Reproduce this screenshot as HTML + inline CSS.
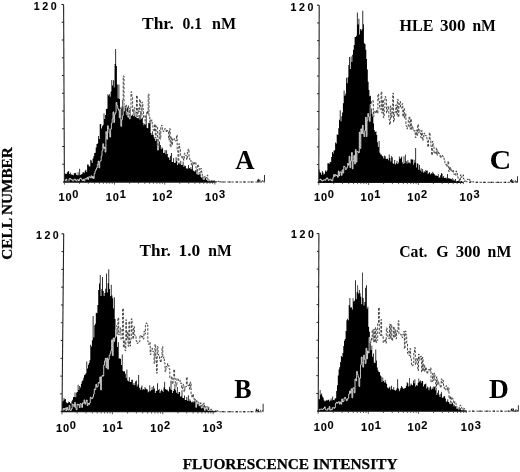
<!DOCTYPE html>
<html><head><meta charset="utf-8"><title>Flow cytometry histograms</title>
<style>
html,body{margin:0;padding:0;background:#fff;}
body{width:520px;height:472px;overflow:hidden;}
svg{display:block;filter:blur(0.3px);}
</style></head><body>
<svg width="520" height="472" viewBox="0 0 520 472">
<defs><clipPath id="clipA"><path d="M64.4 182.0 64.4 173.7 66.0 173.7 66.0 173.9 66.8 173.9 66.8 172.4 67.5 172.4 67.5 171.7 68.3 171.7 68.3 171.1 69.1 171.1 69.1 174.0 69.9 174.0 69.9 172.4 70.7 172.4 70.7 174.2 71.5 174.2 71.5 174.7 73.0 174.7 73.0 175.2 73.8 175.2 73.8 173.0 74.6 173.0 74.6 173.5 75.4 173.5 75.4 172.7 76.2 172.7 76.2 175.1 76.9 175.1 76.9 175.3 77.7 175.3 77.7 172.2 78.5 172.2 78.5 175.2 79.3 175.2 79.3 168.7 80.1 168.7 80.1 175.1 80.9 175.1 80.9 174.2 82.4 174.2 82.4 172.5 83.2 172.5 83.2 172.3 84.0 172.3 84.0 172.8 84.8 172.8 84.8 170.4 85.6 170.4 85.6 169.8 86.3 169.8 86.3 172.0 87.1 172.0 87.1 164.4 87.9 164.4 87.9 164.5 88.7 164.5 88.7 166.3 89.5 166.3 89.5 166.6 90.3 166.6 90.3 159.7 91.0 159.7 91.0 160.4 91.8 160.4 91.8 163.1 92.6 163.1 92.6 158.6 93.4 158.6 93.4 156.3 94.2 156.3 94.2 153.1 95.0 153.1 95.0 152.7 95.7 152.7 95.7 147.4 96.5 147.4 96.5 144.1 97.3 144.1 97.3 143.6 98.1 143.6 98.1 136.0 98.9 136.0 98.9 139.0 99.7 139.0 99.7 124.2 101.2 124.1 101.2 128.5 102.0 128.5 102.0 126.2 102.8 126.2 102.8 124.7 103.6 124.7 103.6 113.5 104.4 113.5 104.4 119.1 105.1 119.1 105.1 114.9 105.9 114.9 105.9 108.9 106.7 108.9 106.7 108.7 107.5 108.7 107.5 94.2 108.3 94.2 108.3 95.4 109.1 95.4 109.1 94.0 109.8 94.0 109.8 96.7 110.6 96.7 110.6 91.5 111.4 91.5 111.4 80.1 112.2 80.1 112.2 85.5 113.0 85.5 113.0 80.3 113.8 80.3 113.8 87.5 114.5 87.5 114.6 64.0 115.3 64.0 115.3 49.0 116.1 49.0 116.1 66.0 116.9 66.0 116.9 84.6 117.7 84.6 117.7 98.4 118.5 98.4 118.5 84.6 119.3 84.6 119.3 99.0 120.0 99.0 120.0 107.5 120.8 107.5 120.8 108.8 121.6 108.8 121.6 106.5 122.4 106.5 122.4 100.0 123.2 100.0 123.2 99.9 124.0 99.9 124.0 111.3 124.7 111.3 124.7 107.7 125.5 107.7 125.5 107.0 126.3 107.0 126.3 115.0 127.1 115.0 127.1 107.6 127.9 107.6 127.9 105.4 128.7 105.4 128.7 115.7 129.4 115.7 129.4 117.3 130.2 117.3 130.2 107.1 131.0 107.1 131.0 116.0 131.8 116.0 131.8 114.5 132.6 114.5 132.6 114.9 133.4 114.9 133.4 109.1 134.1 109.1 134.1 110.9 134.9 110.9 134.9 117.1 135.7 117.1 135.7 114.2 136.5 114.2 136.5 118.1 137.3 118.1 137.3 118.2 138.1 118.2 138.1 118.2 138.8 118.2 138.8 115.1 139.6 115.1 139.6 119.7 140.4 119.7 140.4 111.3 141.2 111.3 141.2 118.7 142.0 118.7 142.0 117.6 142.8 117.6 142.8 123.1 143.5 123.1 143.5 125.3 144.3 125.3 144.3 124.1 145.1 124.1 145.1 120.9 145.9 120.9 145.9 115.3 146.7 115.3 146.7 128.1 147.5 128.1 147.5 128.2 148.2 128.2 148.2 123.0 149.0 123.0 149.0 123.2 149.8 123.2 149.8 119.5 150.6 119.5 150.6 132.9 151.4 132.9 151.4 135.1 152.2 135.1 152.2 131.3 152.9 131.3 152.9 134.7 153.7 134.7 153.7 137.3 154.5 137.3 154.5 139.1 155.3 139.1 155.3 140.9 156.1 140.9 156.1 138.8 156.9 138.8 156.9 146.5 157.6 146.5 157.6 139.2 158.4 139.2 158.4 147.9 159.2 147.9 159.2 141.5 160.0 141.5 160.0 145.0 160.8 145.0 160.8 149.2 161.6 149.2 161.6 147.2 162.3 147.2 162.3 148.6 163.1 148.6 163.1 152.9 163.9 152.9 163.9 152.7 164.7 152.7 164.7 150.0 165.5 150.0 165.5 154.3 166.3 154.3 166.3 150.3 167.1 150.3 167.1 154.1 167.8 154.1 167.8 157.3 168.6 157.3 168.6 157.6 169.4 157.6 169.4 160.0 170.2 160.0 170.2 155.7 171.0 155.7 171.0 153.1 171.8 153.1 171.8 161.9 172.5 161.9 172.5 162.0 173.3 162.0 173.3 158.0 174.1 158.0 174.1 163.0 174.9 163.0 174.9 162.7 175.7 162.7 175.7 157.3 176.5 157.3 176.5 161.0 177.2 161.0 177.2 164.9 178.0 164.9 178.0 162.1 178.8 162.1 178.8 162.8 179.6 162.8 179.6 164.2 180.4 164.2 180.4 160.8 181.2 160.8 181.2 165.1 181.9 165.1 181.9 165.0 182.7 165.0 182.7 161.4 183.5 161.4 183.5 166.9 184.3 166.9 184.3 165.6 185.1 165.6 185.1 166.1 185.9 166.1 185.9 168.5 186.6 168.5 186.6 168.2 187.4 168.2 187.4 168.7 188.2 168.7 188.2 164.9 189.0 164.9 189.0 167.9 189.8 167.9 189.8 168.8 190.6 168.8 190.6 166.9 191.3 166.9 191.3 169.2 192.1 169.2 192.1 161.8 192.9 161.8 192.9 170.6 193.7 170.6 193.7 171.0 194.5 171.0 194.5 171.7 195.3 171.7 195.3 169.9 196.0 169.9 196.0 170.9 196.8 170.9 196.8 172.1 197.6 172.1 197.6 173.5 198.4 173.5 198.4 174.9 199.2 174.9 199.2 172.6 200.0 172.6 200.0 171.6 200.7 171.6 200.7 176.9 201.5 176.9 201.5 177.9 202.3 177.9 202.3 175.1 203.1 175.1 203.1 177.5 203.9 177.5 203.9 179.7 204.7 179.7 204.7 176.6 205.4 176.6 205.4 178.3 206.2 178.3 206.2 179.9 207.0 179.9 207.0 180.7 207.8 180.7 207.8 180.1 208.6 180.1 208.6 179.5 209.4 179.5 209.4 181.2 210.1 181.2 210.1 181.7 210.9 181.7 210.9 180.5 211.7 180.5 211.7 181.2 212.5 181.2 212.5 180.1 213.3 180.1 213.3 181.9 214.1 181.9 214.1 180.8 214.8 180.8 214.8 181.4 215.6 181.4 215.6 181.9 216.4 181.9 216.4 181.0 217.2 181.0 217.2 180.9 218.0 180.9 218.0 182.0 257.2 182.0 257.2 179.8 257.9 179.8 257.9 178.8 258.7 178.8 258.7 180.5 259.5 180.5 259.5 179.4 260.3 179.4 260.3 182.0 261.1 182.0 261.1 181.2 261.9 181.2 261.9 180.0 262.6 180.0 262.6 182.0 263.4 182.0 263.4 180.8 264.2 180.8 264.2 175.0 265.0 175.0 265.0 182.0Z"/></clipPath><clipPath id="clipC"><path d="M318.8 182.3 318.8 169.4 319.6 169.4 319.6 172.3 320.4 172.3 320.4 172.7 321.1 172.7 321.1 174.7 321.9 174.7 321.9 170.9 322.7 170.9 322.7 172.4 323.5 172.4 323.5 174.6 324.2 174.6 324.2 173.8 325.0 173.8 325.0 170.5 325.8 170.5 325.8 171.8 326.6 171.8 326.6 170.6 327.4 170.6 327.4 163.3 328.1 163.3 328.1 163.2 328.9 163.2 328.9 163.8 329.7 163.8 329.7 161.7 330.5 161.7 330.5 162.3 331.2 162.3 331.2 156.9 332.0 156.9 332.0 151.9 332.8 151.9 332.8 153.6 333.6 153.6 333.6 150.6 334.4 150.6 334.4 150.2 335.1 150.2 335.1 142.4 335.9 142.4 335.9 143.5 336.7 143.5 336.7 134.3 337.5 134.3 337.5 135.0 338.3 135.0 338.3 128.3 339.0 128.3 339.0 119.8 339.8 119.8 339.8 110.3 340.6 110.3 340.6 121.3 341.4 121.3 341.4 116.2 342.1 116.2 342.1 112.4 342.9 112.4 342.9 103.3 343.7 103.3 343.7 90.4 344.5 90.4 344.5 95.7 345.3 95.7 345.3 93.7 346.0 93.7 346.0 77.7 346.8 77.7 346.8 83.3 347.6 83.3 347.6 77.2 348.4 77.2 348.4 65.0 349.1 65.0 349.1 57.0 349.9 57.0 349.9 69.1 350.7 69.1 350.7 56.5 351.5 56.5 351.5 62.1 352.3 62.1 352.3 54.7 353.0 54.7 353.0 49.8 353.8 49.8 353.8 44.9 354.6 44.9 354.6 37.0 355.4 37.0 355.4 36.9 356.1 36.9 356.1 35.7 356.9 35.7 356.9 12.5 357.7 12.5 357.7 24.6 358.5 24.6 358.5 18.8 359.3 18.8 359.3 34.6 360.0 34.6 360.0 28.9 360.8 28.9 360.8 30.5 361.6 30.5 361.6 29.2 362.4 29.2 362.4 10.8 363.2 10.8 363.2 24.2 363.9 24.2 363.9 43.2 364.7 43.2 364.7 43.9 365.5 43.9 365.5 49.7 366.3 49.7 366.3 59.1 367.0 59.1 367.0 69.6 367.8 69.6 367.8 81.8 368.6 81.8 368.6 90.0 369.4 90.0 369.4 96.3 370.2 96.3 370.2 95.8 370.9 95.8 370.9 108.4 371.7 108.4 371.7 113.8 372.5 113.8 372.5 116.5 373.3 116.5 373.3 123.4 374.0 123.4 374.0 130.1 374.8 130.1 374.8 132.0 375.6 132.0 375.6 131.2 376.4 131.2 376.4 135.1 377.2 135.1 377.2 142.3 377.9 142.3 377.9 147.0 378.7 147.0 378.7 141.0 379.5 141.0 379.5 152.7 380.3 152.7 380.3 154.6 381.1 154.6 381.1 154.5 381.8 154.5 381.8 156.1 382.6 156.1 382.6 156.4 383.4 156.4 383.4 158.5 384.2 158.5 384.2 155.6 384.9 155.6 384.9 156.3 385.7 156.3 385.7 158.9 386.5 158.9 386.5 159.1 387.3 159.1 387.3 158.4 388.1 158.4 388.1 160.2 388.8 160.2 388.8 154.6 389.6 154.6 389.6 158.1 390.4 158.1 390.4 161.5 391.2 161.5 391.2 155.9 391.9 155.9 391.9 157.2 392.7 157.2 392.7 163.3 393.5 163.3 393.5 163.9 394.3 163.9 394.3 159.9 395.1 159.9 395.1 164.6 395.8 164.6 395.8 163.3 396.6 163.3 396.6 160.7 397.4 160.7 397.4 164.1 398.2 164.1 398.2 162.4 398.9 162.4 398.9 156.4 399.7 156.4 399.7 158.9 400.5 158.9 400.5 157.8 401.3 157.8 401.3 156.5 402.1 156.5 402.1 162.2 402.8 162.2 402.8 163.9 403.6 163.9 403.6 156.3 404.4 156.3 404.4 163.3 405.2 163.3 405.2 154.4 405.9 154.4 405.9 161.2 406.7 161.2 406.7 163.5 407.5 163.5 407.5 160.2 408.3 160.2 408.3 162.7 409.1 162.7 409.1 162.5 409.8 162.5 409.8 163.5 410.6 163.5 410.6 159.3 411.4 159.3 411.4 159.6 412.2 159.6 412.2 159.5 413.0 159.5 413.0 164.8 413.7 164.8 413.7 159.7 414.5 159.7 414.5 162.8 415.3 162.8 415.3 148.0 416.1 148.0 416.1 167.5 416.8 167.5 416.8 163.2 417.6 163.2 417.6 163.8 418.4 163.8 418.4 169.8 419.2 169.8 419.2 164.9 420.0 164.9 420.0 170.4 420.7 170.4 420.7 168.3 421.5 168.3 421.5 171.8 422.3 171.8 422.3 169.0 423.1 169.0 423.1 172.8 423.8 172.8 423.8 171.2 424.6 171.2 424.6 172.2 425.4 172.2 425.4 170.1 426.2 170.1 426.2 170.7 427.0 170.7 427.0 170.4 427.7 170.4 427.7 174.1 428.5 174.1 428.5 173.1 429.3 173.1 429.3 172.1 430.1 172.1 430.1 174.4 430.8 174.4 430.9 173.1 431.6 173.1 431.6 173.8 432.4 173.8 432.4 171.7 433.2 171.7 433.2 173.3 434.0 173.3 434.0 174.0 434.7 174.0 434.7 175.2 435.5 175.2 435.5 175.8 436.3 175.8 436.3 175.4 437.1 175.4 437.1 176.1 437.9 176.1 437.9 173.9 438.6 173.9 438.6 177.5 439.4 177.5 439.4 177.5 440.2 177.5 440.2 175.3 441.0 175.3 441.0 173.0 441.7 173.0 441.7 173.8 442.5 173.8 442.5 177.6 443.3 177.6 443.3 175.9 444.1 175.9 444.1 177.9 444.9 177.9 444.9 177.9 445.6 177.9 445.6 177.6 446.4 177.6 446.4 178.6 447.2 178.6 447.2 174.1 448.0 174.1 448.0 178.1 448.7 178.1 448.7 178.7 449.5 178.7 449.5 178.2 450.3 178.2 450.3 178.9 451.1 178.9 451.1 179.2 451.9 179.2 451.9 178.1 452.6 178.1 452.6 180.6 453.4 180.6 453.4 179.3 454.2 179.3 454.2 180.5 455.0 180.5 455.0 178.9 455.8 178.9 455.8 181.6 456.5 181.6 456.5 181.3 457.3 181.3 457.3 181.1 458.1 181.1 458.1 180.6 458.9 180.6 458.9 181.1 459.6 181.1 459.6 181.8 460.4 181.8 460.4 181.6 461.2 181.6 461.2 181.0 462.0 181.0 462.0 182.0 462.8 182.0 462.8 181.7 463.5 181.7 463.5 182.3 510.2 182.3 510.2 180.1 511.0 180.1 511.0 179.1 511.8 179.1 511.8 180.8 512.6 180.8 512.6 179.7 513.3 179.7 513.3 182.3 514.1 182.3 514.1 181.5 514.9 181.5 514.9 180.3 515.7 180.3 515.7 182.3 516.4 182.3 516.4 181.1 517.2 181.1 517.2 176.3 518.0 176.3 518.0 182.3Z"/></clipPath><clipPath id="clipB"><path d="M62.0 411.8 62.0 401.7 62.8 401.7 62.8 400.8 63.6 400.8 63.6 397.9 64.4 397.9 64.4 399.4 65.1 399.4 65.1 398.9 65.9 398.9 65.9 402.3 66.7 402.3 66.7 403.2 67.5 403.2 67.5 402.9 68.3 402.9 68.3 401.6 69.1 401.6 69.1 402.1 69.9 402.1 69.9 402.9 70.7 402.9 70.7 404.1 71.4 404.1 71.4 401.3 72.2 401.3 72.2 399.7 73.0 399.7 73.0 397.0 74.6 397.0 74.6 392.5 75.4 392.5 75.4 397.2 76.2 397.2 76.2 392.6 77.0 392.6 77.0 391.9 77.7 391.9 77.7 384.8 78.5 384.8 78.5 389.9 79.3 389.9 79.3 386.1 80.1 386.1 80.1 387.6 80.9 387.6 80.9 383.7 81.7 383.7 81.7 381.2 82.5 381.2 82.5 380.3 83.3 380.3 83.3 377.7 84.0 377.7 84.0 375.2 84.8 375.2 84.8 374.4 85.6 374.4 85.6 373.2 86.4 373.2 86.4 361.5 87.2 361.5 87.2 368.4 88.0 368.4 88.0 364.8 88.8 364.8 88.8 363.1 89.5 363.1 89.5 360.2 90.3 360.2 90.3 344.7 91.1 344.7 91.1 346.6 91.9 346.6 91.9 340.3 92.7 340.3 92.7 316.0 93.5 316.0 93.5 337.5 94.3 337.5 94.3 325.3 95.1 325.3 95.1 323.7 95.8 323.7 95.8 312.8 96.6 312.8 96.6 313.2 97.4 313.2 97.4 304.9 98.2 304.9 98.2 290.0 99.0 290.0 99.0 283.5 99.8 283.5 99.8 275.0 100.6 275.0 100.6 296.0 101.4 296.0 101.4 289.1 102.1 289.1 102.1 277.0 102.9 277.0 102.9 291.1 103.7 291.1 103.7 295.9 104.5 295.9 104.5 293.1 105.3 293.1 105.3 288.7 106.1 288.7 106.1 273.6 106.9 273.6 106.9 292.5 107.7 292.5 107.7 283.3 108.4 283.3 108.4 269.3 109.2 269.3 109.2 289.1 110.0 289.1 110.0 296.3 110.8 296.3 110.8 284.8 111.6 284.8 111.6 295.6 112.4 295.6 112.4 298.2 113.2 298.2 113.2 308.4 113.9 308.4 113.9 297.3 114.7 297.3 114.7 318.9 115.5 318.9 115.5 329.3 116.3 329.3 116.3 336.4 117.1 336.4 117.1 346.9 117.9 346.9 117.9 342.2 118.7 342.2 118.7 358.8 119.5 358.8 119.5 357.9 120.2 357.9 120.2 359.0 121.0 359.0 121.0 365.0 121.8 365.0 121.8 354.5 122.6 354.5 122.6 370.8 123.4 370.8 123.4 371.4 124.2 371.4 124.2 371.2 125.0 371.2 125.0 373.7 125.8 373.7 125.8 378.1 126.5 378.1 126.5 369.5 127.3 369.5 127.3 380.5 128.1 380.5 128.1 381.2 128.9 381.2 128.9 377.3 129.7 377.3 129.7 382.0 130.5 382.0 130.5 382.1 131.3 382.1 131.3 379.7 132.1 379.7 132.1 379.8 132.8 379.8 132.8 384.7 133.6 384.7 133.6 383.0 134.4 383.0 134.4 385.2 135.2 385.2 135.2 381.2 136.0 381.2 136.0 380.6 136.8 380.6 136.8 386.5 137.6 386.5 137.6 384.4 138.3 384.4 138.3 375.0 139.1 375.0 139.1 387.7 139.9 387.7 139.9 389.8 140.7 389.8 140.7 387.5 141.5 387.5 141.5 385.4 142.3 385.4 142.3 389.7 143.1 389.7 143.1 388.9 143.9 388.9 143.9 389.7 144.6 389.7 144.6 387.0 145.4 387.0 145.4 388.6 146.2 388.6 146.2 389.2 147.0 389.2 147.0 389.4 147.8 389.4 147.8 392.3 148.6 392.3 148.6 391.3 149.4 391.3 149.4 385.2 150.2 385.2 150.2 391.2 150.9 391.2 150.9 389.9 151.7 389.9 151.7 387.1 152.5 387.1 152.5 389.8 153.3 389.8 153.3 385.7 154.1 385.7 154.1 388.5 154.9 388.5 154.9 393.1 155.7 393.1 155.7 390.8 156.5 390.8 156.5 391.1 157.2 391.1 157.2 383.3 158.0 383.3 158.0 390.0 158.8 390.0 158.8 388.9 159.6 388.9 159.6 393.1 160.4 393.1 160.4 391.3 161.2 391.3 161.2 389.6 162.0 389.6 162.0 390.7 162.8 390.7 162.8 392.1 163.5 392.1 163.5 387.6 164.3 387.6 164.3 381.7 165.1 381.7 165.1 389.0 165.9 389.0 165.9 389.8 166.7 389.8 166.7 389.4 167.5 389.4 167.5 390.8 168.3 390.8 168.3 391.4 169.0 391.4 169.0 386.7 169.8 386.7 169.8 389.2 170.6 389.2 170.6 380.5 171.4 380.5 171.4 390.0 172.2 390.0 172.2 393.0 173.0 393.0 173.0 391.0 173.8 391.0 173.8 389.0 174.6 389.0 174.6 384.1 175.3 384.1 175.3 390.3 176.1 390.3 176.1 392.8 176.9 392.8 176.9 386.9 177.7 386.9 177.7 394.1 178.5 394.1 178.5 392.2 179.3 392.2 179.3 392.1 180.1 392.1 180.1 396.5 180.9 396.5 180.9 396.2 181.6 396.2 181.6 390.3 182.4 390.3 182.4 397.9 183.2 397.9 183.2 398.1 184.0 398.1 184.0 395.5 184.8 395.5 184.8 400.0 185.6 400.0 185.6 400.1 186.4 400.1 186.4 397.1 187.2 397.1 187.2 400.7 187.9 400.7 187.9 395.3 188.7 395.3 188.7 401.2 189.5 401.2 189.5 399.3 190.3 399.3 190.3 400.7 191.1 400.7 191.1 402.2 192.7 402.2 192.7 400.8 193.4 400.8 193.4 402.6 194.2 402.6 194.2 399.6 195.0 399.6 195.0 402.3 195.8 402.3 195.8 402.3 196.6 402.3 196.6 401.6 197.4 401.6 197.4 401.2 198.2 401.2 198.2 402.7 199.0 402.7 199.0 404.8 199.7 404.8 199.7 404.7 200.5 404.7 200.5 406.2 201.3 406.2 201.3 406.6 202.1 406.6 202.1 405.5 202.9 405.5 202.9 408.3 203.7 408.3 203.7 407.3 204.5 407.3 204.5 407.7 205.3 407.7 205.3 407.6 206.0 407.6 206.0 406.0 206.8 406.0 206.8 406.6 207.6 406.6 207.6 408.5 208.4 408.5 208.4 406.8 209.2 406.8 209.2 410.2 210.0 410.2 210.0 409.3 210.8 409.3 210.8 408.8 211.6 408.8 211.6 410.2 212.3 410.2 212.3 410.5 213.1 410.5 213.1 411.4 213.9 411.4 213.9 411.0 214.7 411.0 214.7 411.5 215.5 411.5 215.5 411.7 216.3 411.7 216.3 411.5 217.1 411.5 217.1 411.7 217.8 411.7 217.8 410.7 218.6 410.7 218.6 411.8 255.6 411.8 255.6 409.6 256.4 409.6 256.4 408.6 257.2 408.6 257.2 410.3 258.0 410.3 258.0 409.2 258.8 409.2 258.8 411.8 259.6 411.8 259.6 411.0 260.4 411.0 260.4 409.8 261.1 409.8 261.1 411.8 261.9 411.8 261.9 410.6 262.7 410.6 262.7 403.8 263.5 403.8 263.5 411.8Z"/></clipPath><clipPath id="clipD"><path d="M318.2 411.2 318.2 399.1 319.0 399.1 319.0 399.2 319.8 399.2 319.8 390.1 320.5 390.1 320.5 394.7 321.3 394.7 321.3 393.5 322.1 393.5 322.1 396.5 322.9 396.5 322.9 397.8 323.7 397.8 323.7 400.2 324.5 400.2 324.5 401.6 325.2 401.6 325.2 400.8 326.0 400.8 326.0 400.2 326.8 400.2 326.8 400.5 327.6 400.5 327.6 399.7 329.2 399.7 329.2 401.4 329.9 401.4 329.9 400.6 330.7 400.6 330.7 398.4 331.5 398.4 331.5 400.4 332.3 400.4 332.3 396.6 333.1 396.6 333.1 400.1 333.9 400.1 333.9 400.3 334.6 400.3 334.6 398.4 335.4 398.4 335.4 398.3 336.2 398.3 336.2 390.9 337.0 390.9 337.0 385.3 337.8 385.3 337.8 375.4 338.6 375.4 338.6 369.6 339.3 369.6 339.3 367.2 340.1 367.2 340.1 361.9 340.9 361.9 340.9 356.1 341.7 356.1 341.7 356.9 342.5 356.9 342.5 352.9 343.3 352.9 343.3 345.9 344.0 345.9 344.0 340.7 344.8 340.7 344.8 339.0 345.6 339.0 345.6 330.9 346.4 330.9 346.4 320.2 347.2 320.2 347.2 318.8 348.0 318.8 348.0 320.2 348.7 320.2 348.7 305.2 349.5 305.2 349.5 298.1 350.3 298.1 350.3 307.6 351.1 307.6 351.1 307.2 351.9 307.2 351.9 309.5 352.7 309.5 352.7 298.2 353.4 298.2 353.4 301.6 354.2 301.6 354.2 300.7 355.0 300.7 355.0 280.3 355.8 280.3 355.8 299.2 356.6 299.2 356.6 292.2 357.4 292.2 357.4 285.3 358.1 285.3 358.1 293.4 358.9 293.4 358.9 290.0 359.7 290.0 359.7 293.3 360.5 293.3 360.5 296.7 361.3 296.7 361.3 304.3 362.1 304.3 362.1 272.6 362.8 272.6 362.8 297.9 363.6 297.9 363.6 305.6 364.4 305.6 364.4 301.9 365.2 301.9 365.2 287.7 366.0 287.7 366.0 285.3 366.8 285.3 366.8 308.7 367.5 308.7 367.5 306.8 368.3 306.8 368.3 326.8 369.1 326.8 369.1 331.7 369.9 331.7 369.9 342.9 370.7 342.9 370.7 350.1 371.5 350.1 371.5 345.6 372.2 345.6 372.2 356.7 373.0 356.7 373.0 353.5 373.8 353.5 373.8 362.5 374.6 362.5 374.6 363.1 375.4 363.1 375.4 349.4 376.2 349.4 376.2 360.5 376.9 360.5 376.9 367.5 377.7 367.5 377.7 370.5 378.5 370.5 378.5 372.0 379.3 372.0 379.3 372.2 380.1 372.2 380.1 375.6 380.9 375.6 380.9 376.6 381.6 376.6 381.6 381.7 382.4 381.7 382.4 377.4 383.2 377.4 383.2 380.9 384.0 380.9 384.0 382.5 384.8 382.5 384.8 380.0 385.6 380.0 385.6 382.6 386.3 382.6 386.3 384.1 387.1 384.1 387.1 387.4 387.9 387.4 387.9 388.5 388.7 388.5 388.7 387.6 389.5 387.6 389.5 386.4 390.3 386.4 390.3 389.7 391.0 389.7 391.0 385.8 391.8 385.8 391.8 389.0 392.6 389.0 392.6 389.8 393.4 389.8 393.4 386.9 394.2 386.9 394.2 389.9 395.0 389.9 395.0 390.8 395.7 390.8 395.7 390.0 396.5 390.0 396.5 388.2 397.3 388.2 397.3 379.3 398.1 379.3 398.1 388.4 398.9 388.4 398.9 391.3 399.7 391.3 399.7 389.6 400.4 389.6 400.4 387.8 401.2 387.8 401.2 386.1 402.0 386.1 402.0 387.2 402.8 387.2 402.8 388.5 403.6 388.5 403.6 389.1 404.4 389.1 404.4 388.1 405.1 388.1 405.1 388.0 405.9 388.0 405.9 385.9 406.7 385.9 406.7 382.3 407.5 382.3 407.5 383.2 408.3 383.2 408.3 386.6 409.1 386.6 409.1 378.0 409.8 378.0 409.8 385.7 410.6 385.7 410.6 383.5 411.4 383.5 411.4 384.8 412.2 384.8 412.2 385.2 413.0 385.2 413.0 380.4 413.8 380.4 413.8 383.3 414.5 383.3 414.5 379.2 415.3 379.2 415.3 386.6 416.1 386.6 416.1 384.9 416.9 384.9 416.9 385.7 417.7 385.7 417.7 382.8 418.5 382.8 418.5 378.6 419.2 378.6 419.2 381.5 420.0 381.5 420.0 380.5 420.8 380.5 420.8 382.7 421.6 382.7 421.6 381.0 422.4 381.0 422.4 380.9 423.1 380.9 423.1 386.5 423.9 386.5 423.9 384.5 424.7 384.5 424.7 384.3 425.5 384.3 425.5 383.4 426.3 383.4 426.3 388.5 427.1 388.5 427.1 386.4 427.8 386.4 427.8 387.6 428.6 387.6 428.6 390.3 429.4 390.3 429.4 387.6 430.2 387.6 430.2 386.2 431.0 386.2 431.0 389.6 431.8 389.6 431.8 387.4 432.5 387.4 432.5 389.1 433.3 389.1 433.3 386.6 434.1 386.6 434.1 386.8 434.9 386.8 434.9 387.8 435.7 387.8 435.7 388.6 436.5 388.6 436.5 394.9 437.2 394.9 437.2 392.7 438.0 392.7 438.0 390.2 438.8 390.2 438.8 394.7 439.6 394.7 439.6 396.9 440.4 396.9 440.4 393.8 441.2 393.8 441.2 391.8 441.9 391.8 441.9 397.8 442.7 397.8 442.7 397.6 443.5 397.6 443.5 396.6 444.3 396.6 444.3 396.0 445.1 396.0 445.1 398.6 445.9 398.6 445.9 401.9 446.6 401.9 446.6 401.3 447.4 401.3 447.4 399.3 448.2 399.3 448.2 402.1 449.0 402.1 449.0 403.8 449.8 403.8 449.8 402.0 450.6 402.0 450.6 403.3 451.3 403.3 451.3 402.4 452.1 402.4 452.1 402.8 452.9 402.8 452.9 404.1 453.7 404.1 453.7 406.2 455.3 406.2 455.3 406.3 456.0 406.3 456.0 408.4 456.8 408.4 456.8 408.0 457.6 408.0 457.6 408.5 458.4 408.5 458.4 409.7 459.2 409.7 459.2 408.6 460.0 408.6 460.0 408.1 460.7 408.1 460.7 410.1 461.5 410.1 461.5 410.5 462.3 410.5 462.3 410.7 463.1 410.7 463.1 410.0 464.7 410.0 464.7 411.2 465.4 411.2 465.4 410.8 466.2 410.8 466.2 411.2 510.9 411.2 510.9 409.0 511.7 409.0 511.7 408.0 512.4 408.0 512.4 409.7 513.2 409.7 513.2 408.6 514.0 408.6 514.0 411.2 514.8 411.2 514.8 410.4 515.6 410.4 515.6 409.2 516.4 409.2 516.4 411.2 517.1 411.2 517.1 410.0 517.9 410.0 517.9 405.2 518.7 405.2 518.7 411.2Z"/></clipPath></defs>
<rect width="520" height="472" fill="#fff"/>
<path d="M64.4 182.0 64.4 173.7 66.0 173.7 66.0 173.9 66.8 173.9 66.8 172.4 67.5 172.4 67.5 171.7 68.3 171.7 68.3 171.1 69.1 171.1 69.1 174.0 69.9 174.0 69.9 172.4 70.7 172.4 70.7 174.2 71.5 174.2 71.5 174.7 73.0 174.7 73.0 175.2 73.8 175.2 73.8 173.0 74.6 173.0 74.6 173.5 75.4 173.5 75.4 172.7 76.2 172.7 76.2 175.1 76.9 175.1 76.9 175.3 77.7 175.3 77.7 172.2 78.5 172.2 78.5 175.2 79.3 175.2 79.3 168.7 80.1 168.7 80.1 175.1 80.9 175.1 80.9 174.2 82.4 174.2 82.4 172.5 83.2 172.5 83.2 172.3 84.0 172.3 84.0 172.8 84.8 172.8 84.8 170.4 85.6 170.4 85.6 169.8 86.3 169.8 86.3 172.0 87.1 172.0 87.1 164.4 87.9 164.4 87.9 164.5 88.7 164.5 88.7 166.3 89.5 166.3 89.5 166.6 90.3 166.6 90.3 159.7 91.0 159.7 91.0 160.4 91.8 160.4 91.8 163.1 92.6 163.1 92.6 158.6 93.4 158.6 93.4 156.3 94.2 156.3 94.2 153.1 95.0 153.1 95.0 152.7 95.7 152.7 95.7 147.4 96.5 147.4 96.5 144.1 97.3 144.1 97.3 143.6 98.1 143.6 98.1 136.0 98.9 136.0 98.9 139.0 99.7 139.0 99.7 124.2 101.2 124.1 101.2 128.5 102.0 128.5 102.0 126.2 102.8 126.2 102.8 124.7 103.6 124.7 103.6 113.5 104.4 113.5 104.4 119.1 105.1 119.1 105.1 114.9 105.9 114.9 105.9 108.9 106.7 108.9 106.7 108.7 107.5 108.7 107.5 94.2 108.3 94.2 108.3 95.4 109.1 95.4 109.1 94.0 109.8 94.0 109.8 96.7 110.6 96.7 110.6 91.5 111.4 91.5 111.4 80.1 112.2 80.1 112.2 85.5 113.0 85.5 113.0 80.3 113.8 80.3 113.8 87.5 114.5 87.5 114.6 64.0 115.3 64.0 115.3 49.0 116.1 49.0 116.1 66.0 116.9 66.0 116.9 84.6 117.7 84.6 117.7 98.4 118.5 98.4 118.5 84.6 119.3 84.6 119.3 99.0 120.0 99.0 120.0 107.5 120.8 107.5 120.8 108.8 121.6 108.8 121.6 106.5 122.4 106.5 122.4 100.0 123.2 100.0 123.2 99.9 124.0 99.9 124.0 111.3 124.7 111.3 124.7 107.7 125.5 107.7 125.5 107.0 126.3 107.0 126.3 115.0 127.1 115.0 127.1 107.6 127.9 107.6 127.9 105.4 128.7 105.4 128.7 115.7 129.4 115.7 129.4 117.3 130.2 117.3 130.2 107.1 131.0 107.1 131.0 116.0 131.8 116.0 131.8 114.5 132.6 114.5 132.6 114.9 133.4 114.9 133.4 109.1 134.1 109.1 134.1 110.9 134.9 110.9 134.9 117.1 135.7 117.1 135.7 114.2 136.5 114.2 136.5 118.1 137.3 118.1 137.3 118.2 138.1 118.2 138.1 118.2 138.8 118.2 138.8 115.1 139.6 115.1 139.6 119.7 140.4 119.7 140.4 111.3 141.2 111.3 141.2 118.7 142.0 118.7 142.0 117.6 142.8 117.6 142.8 123.1 143.5 123.1 143.5 125.3 144.3 125.3 144.3 124.1 145.1 124.1 145.1 120.9 145.9 120.9 145.9 115.3 146.7 115.3 146.7 128.1 147.5 128.1 147.5 128.2 148.2 128.2 148.2 123.0 149.0 123.0 149.0 123.2 149.8 123.2 149.8 119.5 150.6 119.5 150.6 132.9 151.4 132.9 151.4 135.1 152.2 135.1 152.2 131.3 152.9 131.3 152.9 134.7 153.7 134.7 153.7 137.3 154.5 137.3 154.5 139.1 155.3 139.1 155.3 140.9 156.1 140.9 156.1 138.8 156.9 138.8 156.9 146.5 157.6 146.5 157.6 139.2 158.4 139.2 158.4 147.9 159.2 147.9 159.2 141.5 160.0 141.5 160.0 145.0 160.8 145.0 160.8 149.2 161.6 149.2 161.6 147.2 162.3 147.2 162.3 148.6 163.1 148.6 163.1 152.9 163.9 152.9 163.9 152.7 164.7 152.7 164.7 150.0 165.5 150.0 165.5 154.3 166.3 154.3 166.3 150.3 167.1 150.3 167.1 154.1 167.8 154.1 167.8 157.3 168.6 157.3 168.6 157.6 169.4 157.6 169.4 160.0 170.2 160.0 170.2 155.7 171.0 155.7 171.0 153.1 171.8 153.1 171.8 161.9 172.5 161.9 172.5 162.0 173.3 162.0 173.3 158.0 174.1 158.0 174.1 163.0 174.9 163.0 174.9 162.7 175.7 162.7 175.7 157.3 176.5 157.3 176.5 161.0 177.2 161.0 177.2 164.9 178.0 164.9 178.0 162.1 178.8 162.1 178.8 162.8 179.6 162.8 179.6 164.2 180.4 164.2 180.4 160.8 181.2 160.8 181.2 165.1 181.9 165.1 181.9 165.0 182.7 165.0 182.7 161.4 183.5 161.4 183.5 166.9 184.3 166.9 184.3 165.6 185.1 165.6 185.1 166.1 185.9 166.1 185.9 168.5 186.6 168.5 186.6 168.2 187.4 168.2 187.4 168.7 188.2 168.7 188.2 164.9 189.0 164.9 189.0 167.9 189.8 167.9 189.8 168.8 190.6 168.8 190.6 166.9 191.3 166.9 191.3 169.2 192.1 169.2 192.1 161.8 192.9 161.8 192.9 170.6 193.7 170.6 193.7 171.0 194.5 171.0 194.5 171.7 195.3 171.7 195.3 169.9 196.0 169.9 196.0 170.9 196.8 170.9 196.8 172.1 197.6 172.1 197.6 173.5 198.4 173.5 198.4 174.9 199.2 174.9 199.2 172.6 200.0 172.6 200.0 171.6 200.7 171.6 200.7 176.9 201.5 176.9 201.5 177.9 202.3 177.9 202.3 175.1 203.1 175.1 203.1 177.5 203.9 177.5 203.9 179.7 204.7 179.7 204.7 176.6 205.4 176.6 205.4 178.3 206.2 178.3 206.2 179.9 207.0 179.9 207.0 180.7 207.8 180.7 207.8 180.1 208.6 180.1 208.6 179.5 209.4 179.5 209.4 181.2 210.1 181.2 210.1 181.7 210.9 181.7 210.9 180.5 211.7 180.5 211.7 181.2 212.5 181.2 212.5 180.1 213.3 180.1 213.3 181.9 214.1 181.9 214.1 180.8 214.8 180.8 214.8 181.4 215.6 181.4 215.6 181.9 216.4 181.9 216.4 181.0 217.2 181.0 217.2 180.9 218.0 180.9 218.0 182.0 257.2 182.0 257.2 179.8 257.9 179.8 257.9 178.8 258.7 178.8 258.7 180.5 259.5 180.5 259.5 179.4 260.3 179.4 260.3 182.0 261.1 182.0 261.1 181.2 261.9 181.2 261.9 180.0 262.6 180.0 262.6 182.0 263.4 182.0 263.4 180.8 264.2 180.8 264.2 175.0 265.0 175.0 265.0 182.0Z" fill="#000"/>
<path d="M64.4 181.3 65.2 181.3 65.2 180.0 66.0 180.0 66.0 179.2 66.8 179.2 66.8 182.0 67.5 182.0 67.5 181.9 68.3 181.9 68.3 181.3 69.1 181.3 69.1 178.7 69.9 178.7 69.9 178.5 70.7 178.5 70.7 179.6 71.5 179.6 71.5 179.4 72.2 179.4 72.2 180.8 73.0 180.8 73.0 181.6 73.8 181.6 73.8 179.4 74.6 179.4 74.6 179.0 75.4 179.0 75.4 180.1 76.2 180.1 76.2 182.0 76.9 182.0 76.9 179.7 77.7 179.7 77.7 179.8 78.5 179.8 78.5 181.0 79.3 181.0 79.3 179.0 80.1 179.0 80.1 178.1 80.9 178.1 80.9 178.9 81.6 178.9 81.6 179.8 82.4 179.8 82.4 180.8 83.2 180.8 83.2 179.3 84.0 179.3 84.0 181.7 84.8 181.7 84.8 178.8 85.6 178.8 85.6 178.5 86.3 178.5 86.3 179.1 87.1 179.1 87.1 177.3 87.9 177.3 87.9 179.4 88.7 179.4 88.7 176.8 89.5 176.8 89.5 177.0 90.3 177.0 90.3 177.7 91.0 177.7 91.0 175.8 91.8 175.8 91.8 178.1 92.6 178.1 92.6 176.5 93.4 176.5 93.4 178.5 94.2 178.5 94.2 173.6 95.0 173.6 95.0 171.2 95.7 171.2 95.7 169.6 96.5 169.6 96.5 167.9 97.3 167.9 97.3 164.6 98.1 164.6 98.1 161.2 98.9 161.2 98.9 167.9 99.7 167.9 99.7 161.4 100.4 161.4 100.4 160.7 101.2 160.7 101.2 156.1 102.0 156.1 102.0 150.8 102.8 150.8 102.8 143.8 103.6 143.8 103.6 148.4 104.4 148.4 104.4 147.0 105.1 147.0 105.1 152.1 105.9 152.1 105.9 131.6 106.7 131.6 106.7 139.3 107.5 139.3 107.5 125.8 108.3 125.8 108.3 128.8 109.1 128.8 109.1 133.1 109.8 133.1 109.8 137.1 110.6 137.1 110.6 129.0 111.4 129.0 111.4 123.3 112.2 123.3 112.2 119.1 113.0 119.1 113.0 111.9 113.8 111.9 113.8 122.5 114.5 122.5 114.6 114.3 115.3 114.3 115.3 112.8 116.1 112.8 116.1 102.5 116.9 102.5 116.9 105.7 117.7 105.7 117.7 108.8 118.5 108.8 118.5 110.4 119.3 110.4 119.3 117.8 120.0 117.8 120.0 108.9 120.8 108.9 120.8 126.3 121.6 126.3 121.6 119.7 122.4 119.7 122.4 115.8 123.2 115.8 123.2 76.0 124.0 76.0 124.0 106.9 125.5 106.9 125.5 104.9 126.3 104.9 126.3 114.7 127.1 114.7 127.1 112.2 127.9 112.2 127.9 117.2 128.7 117.2 128.7 108.1 129.4 108.1 129.4 118.8 130.2 118.8 130.2 108.0 131.0 108.0 131.0 91.8 131.8 91.8 131.8 97.5 132.6 97.5 132.6 112.8 133.4 112.8 133.4 115.9 134.1 115.9 134.1 107.8 134.9 107.8 134.9 113.7 135.7 113.7 135.7 113.1 136.5 113.1 136.5 95.6 137.3 95.6 137.3 116.5 138.1 116.5 138.1 108.3 138.8 108.3 138.8 111.6 139.6 111.6 139.6 99.5 140.4 99.5 140.4 107.6 141.2 107.6 141.2 115.2 142.0 115.2 142.0 102.2 142.8 102.2 142.8 108.8 143.5 108.8 143.5 117.3 144.3 117.3 144.3 116.0 145.1 116.0 145.1 124.1 145.9 124.1 145.9 114.6 146.7 114.6 146.7 111.2 147.5 111.2 147.5 114.0 148.2 114.0 148.2 94.0 149.0 94.0 149.0 116.9 149.8 116.9 149.8 122.2 150.6 122.2 150.6 121.9 151.4 121.9 151.4 120.0 152.2 120.0 152.2 124.1 152.9 124.1 152.9 129.7 153.7 129.7 153.7 131.3 154.5 131.3 154.5 124.3 155.3 124.3 155.3 137.8 156.1 137.8 156.1 126.1 156.9 126.1 156.9 127.1 157.6 127.1 157.6 150.1 158.4 150.1 158.4 139.0 159.2 139.0 159.2 130.5 160.0 130.5 160.0 139.2 160.8 139.2 160.8 126.0 161.6 126.0 161.6 125.3 162.3 125.3 162.3 129.9 163.1 129.9 163.1 131.5 163.9 131.5 163.9 129.7 164.7 129.7 164.7 128.6 165.5 128.6 165.5 130.1 166.3 130.1 166.3 132.2 167.1 132.2 167.1 130.5 167.8 130.5 167.8 131.7 168.6 131.7 168.6 139.9 169.4 139.9 169.4 128.7 170.2 128.7 170.2 147.1 171.0 147.1 171.0 136.9 171.8 136.9 171.8 144.9 172.5 144.9 172.5 139.2 173.3 139.2 173.3 140.1 174.1 140.1 174.1 138.8 174.9 138.8 174.9 140.9 175.7 140.9 175.7 140.7 176.5 140.7 176.5 135.1 177.2 135.1 177.2 150.9 178.0 150.9 178.0 163.0 178.8 163.0 178.8 143.8 179.6 143.8 179.6 147.9 180.4 147.9 180.4 155.4 181.2 155.4 181.2 155.9 181.9 155.9 181.9 158.6 182.7 158.6 182.7 156.8 183.5 156.8 183.5 160.2 184.3 160.2 184.3 153.3 185.1 153.3 185.1 155.3 185.9 155.3 185.9 155.7 186.6 155.7 186.6 159.6 187.4 159.6 187.4 151.9 188.2 151.9 188.2 149.1 189.0 149.1 189.0 158.2 189.8 158.2 189.8 161.1 190.6 161.1 190.6 160.7 191.3 160.7 191.3 165.1 192.1 165.1 192.1 162.7 192.9 162.7 192.9 164.4 193.7 164.4 193.7 162.0 194.5 162.0 194.5 163.8 195.3 163.8 195.3 162.5 196.0 162.5 196.0 168.4 196.8 168.4 196.8 174.1 197.6 174.1 197.6 164.6 198.4 164.6 198.4 166.5 199.2 166.5 199.2 173.4 200.0 173.4 200.0 174.1 200.7 174.1 200.7 168.5 201.5 168.5 201.5 172.1 202.3 172.1 202.3 176.7 203.1 176.7 203.1 179.3 203.9 179.3 203.9 176.8 204.7 176.8 204.7 177.3 205.4 177.3 205.4 177.2 206.2 177.2 206.2 177.7 207.0 177.7 207.0 175.1 207.8 175.1 207.8 179.6 208.6 179.6 208.6 181.3 209.4 181.3 209.4 180.2 210.1 180.2 210.1 180.5 210.9 180.5 210.9 180.9 211.7 180.9 211.7 180.6 212.5 180.6 212.5 180.4 213.3 180.4 213.3 181.4 214.1 181.4 214.1 180.6 214.8 180.6 214.8 181.4 215.6 181.4 215.6 182.0 216.4 182.0 216.4 181.7 217.2 181.7 217.2 181.6 218.0 181.6 218.0 181.2 218.8 181.2 218.8 182.0 219.6 182.0 219.6 181.1 220.3 181.1 220.3 182.0 265.0 182.0" fill="none" stroke="#333" stroke-width="0.9" stroke-dasharray="2.5 1.5"/>
<path d="M64.4 181.3 65.2 181.3 65.2 180.0 66.0 180.0 66.0 179.2 66.8 179.2 66.8 182.0 67.5 182.0 67.5 181.9 68.3 181.9 68.3 181.3 69.1 181.3 69.1 178.7 69.9 178.7 69.9 178.5 70.7 178.5 70.7 179.6 71.5 179.6 71.5 179.4 72.2 179.4 72.2 180.8 73.0 180.8 73.0 181.6 73.8 181.6 73.8 179.4 74.6 179.4 74.6 179.0 75.4 179.0 75.4 180.1 76.2 180.1 76.2 182.0 76.9 182.0 76.9 179.7 77.7 179.7 77.7 179.8 78.5 179.8 78.5 181.0 79.3 181.0 79.3 179.0 80.1 179.0 80.1 178.1 80.9 178.1 80.9 178.9 81.6 178.9 81.6 179.8 82.4 179.8 82.4 180.8 83.2 180.8 83.2 179.3 84.0 179.3 84.0 181.7 84.8 181.7 84.8 178.8 85.6 178.8 85.6 178.5 86.3 178.5 86.3 179.1 87.1 179.1 87.1 177.3 87.9 177.3 87.9 179.4 88.7 179.4 88.7 176.8 89.5 176.8 89.5 177.0 90.3 177.0 90.3 177.7 91.0 177.7 91.0 175.8 91.8 175.8 91.8 178.1 92.6 178.1 92.6 176.5 93.4 176.5 93.4 178.5 94.2 178.5 94.2 173.6 95.0 173.6 95.0 171.2 95.7 171.2 95.7 169.6 96.5 169.6 96.5 167.9 97.3 167.9 97.3 164.6 98.1 164.6 98.1 161.2 98.9 161.2 98.9 167.9 99.7 167.9 99.7 161.4 100.4 161.4 100.4 160.7 101.2 160.7 101.2 156.1 102.0 156.1 102.0 150.8 102.8 150.8 102.8 143.8 103.6 143.8 103.6 148.4 104.4 148.4 104.4 147.0 105.1 147.0 105.1 152.1 105.9 152.1 105.9 131.6 106.7 131.6 106.7 139.3 107.5 139.3 107.5 125.8 108.3 125.8 108.3 128.8 109.1 128.8 109.1 133.1 109.8 133.1 109.8 137.1 110.6 137.1 110.6 129.0 111.4 129.0 111.4 123.3 112.2 123.3 112.2 119.1 113.0 119.1 113.0 111.9 113.8 111.9 113.8 122.5 114.5 122.5 114.6 114.3 115.3 114.3 115.3 112.8 116.1 112.8 116.1 102.5 116.9 102.5 116.9 105.7 117.7 105.7 117.7 108.8 118.5 108.8 118.5 110.4 119.3 110.4 119.3 117.8 120.0 117.8 120.0 108.9 120.8 108.9 120.8 126.3 121.6 126.3 121.6 119.7 122.4 119.7 122.4 115.8 123.2 115.8 123.2 76.0 124.0 76.0 124.0 106.9 125.5 106.9 125.5 104.9 126.3 104.9 126.3 114.7 127.1 114.7 127.1 112.2 127.9 112.2 127.9 117.2 128.7 117.2 128.7 108.1 129.4 108.1 129.4 118.8 130.2 118.8 130.2 108.0 131.0 108.0 131.0 91.8 131.8 91.8 131.8 97.5 132.6 97.5 132.6 112.8 133.4 112.8 133.4 115.9 134.1 115.9 134.1 107.8 134.9 107.8 134.9 113.7 135.7 113.7 135.7 113.1 136.5 113.1 136.5 95.6 137.3 95.6 137.3 116.5 138.1 116.5 138.1 108.3 138.8 108.3 138.8 111.6 139.6 111.6 139.6 99.5 140.4 99.5 140.4 107.6 141.2 107.6 141.2 115.2 142.0 115.2 142.0 102.2 142.8 102.2 142.8 108.8 143.5 108.8 143.5 117.3 144.3 117.3 144.3 116.0 145.1 116.0 145.1 124.1 145.9 124.1 145.9 114.6 146.7 114.6 146.7 111.2 147.5 111.2 147.5 114.0 148.2 114.0 148.2 94.0 149.0 94.0 149.0 116.9 149.8 116.9 149.8 122.2 150.6 122.2 150.6 121.9 151.4 121.9 151.4 120.0 152.2 120.0 152.2 124.1 152.9 124.1 152.9 129.7 153.7 129.7 153.7 131.3 154.5 131.3 154.5 124.3 155.3 124.3 155.3 137.8 156.1 137.8 156.1 126.1 156.9 126.1 156.9 127.1 157.6 127.1 157.6 150.1 158.4 150.1 158.4 139.0 159.2 139.0 159.2 130.5 160.0 130.5 160.0 139.2 160.8 139.2 160.8 126.0 161.6 126.0 161.6 125.3 162.3 125.3 162.3 129.9 163.1 129.9 163.1 131.5 163.9 131.5 163.9 129.7 164.7 129.7 164.7 128.6 165.5 128.6 165.5 130.1 166.3 130.1 166.3 132.2 167.1 132.2 167.1 130.5 167.8 130.5 167.8 131.7 168.6 131.7 168.6 139.9 169.4 139.9 169.4 128.7 170.2 128.7 170.2 147.1 171.0 147.1 171.0 136.9 171.8 136.9 171.8 144.9 172.5 144.9 172.5 139.2 173.3 139.2 173.3 140.1 174.1 140.1 174.1 138.8 174.9 138.8 174.9 140.9 175.7 140.9 175.7 140.7 176.5 140.7 176.5 135.1 177.2 135.1 177.2 150.9 178.0 150.9 178.0 163.0 178.8 163.0 178.8 143.8 179.6 143.8 179.6 147.9 180.4 147.9 180.4 155.4 181.2 155.4 181.2 155.9 181.9 155.9 181.9 158.6 182.7 158.6 182.7 156.8 183.5 156.8 183.5 160.2 184.3 160.2 184.3 153.3 185.1 153.3 185.1 155.3 185.9 155.3 185.9 155.7 186.6 155.7 186.6 159.6 187.4 159.6 187.4 151.9 188.2 151.9 188.2 149.1 189.0 149.1 189.0 158.2 189.8 158.2 189.8 161.1 190.6 161.1 190.6 160.7 191.3 160.7 191.3 165.1 192.1 165.1 192.1 162.7 192.9 162.7 192.9 164.4 193.7 164.4 193.7 162.0 194.5 162.0 194.5 163.8 195.3 163.8 195.3 162.5 196.0 162.5 196.0 168.4 196.8 168.4 196.8 174.1 197.6 174.1 197.6 164.6 198.4 164.6 198.4 166.5 199.2 166.5 199.2 173.4 200.0 173.4 200.0 174.1 200.7 174.1 200.7 168.5 201.5 168.5 201.5 172.1 202.3 172.1 202.3 176.7 203.1 176.7 203.1 179.3 203.9 179.3 203.9 176.8 204.7 176.8 204.7 177.3 205.4 177.3 205.4 177.2 206.2 177.2 206.2 177.7 207.0 177.7 207.0 175.1 207.8 175.1 207.8 179.6 208.6 179.6 208.6 181.3 209.4 181.3 209.4 180.2 210.1 180.2 210.1 180.5 210.9 180.5 210.9 180.9 211.7 180.9 211.7 180.6 212.5 180.6 212.5 180.4 213.3 180.4 213.3 181.4 214.1 181.4 214.1 180.6 214.8 180.6 214.8 181.4 215.6 181.4 215.6 182.0 216.4 182.0 216.4 181.7 217.2 181.7 217.2 181.6 218.0 181.6 218.0 181.2 218.8 181.2 218.8 182.0 219.6 182.0 219.6 181.1 220.3 181.1 220.3 182.0 265.0 182.0" fill="none" stroke="#fff" stroke-width="0.7" clip-path="url(#clipA)"/>
<path d="M318.8 182.3 318.8 169.4 319.6 169.4 319.6 172.3 320.4 172.3 320.4 172.7 321.1 172.7 321.1 174.7 321.9 174.7 321.9 170.9 322.7 170.9 322.7 172.4 323.5 172.4 323.5 174.6 324.2 174.6 324.2 173.8 325.0 173.8 325.0 170.5 325.8 170.5 325.8 171.8 326.6 171.8 326.6 170.6 327.4 170.6 327.4 163.3 328.1 163.3 328.1 163.2 328.9 163.2 328.9 163.8 329.7 163.8 329.7 161.7 330.5 161.7 330.5 162.3 331.2 162.3 331.2 156.9 332.0 156.9 332.0 151.9 332.8 151.9 332.8 153.6 333.6 153.6 333.6 150.6 334.4 150.6 334.4 150.2 335.1 150.2 335.1 142.4 335.9 142.4 335.9 143.5 336.7 143.5 336.7 134.3 337.5 134.3 337.5 135.0 338.3 135.0 338.3 128.3 339.0 128.3 339.0 119.8 339.8 119.8 339.8 110.3 340.6 110.3 340.6 121.3 341.4 121.3 341.4 116.2 342.1 116.2 342.1 112.4 342.9 112.4 342.9 103.3 343.7 103.3 343.7 90.4 344.5 90.4 344.5 95.7 345.3 95.7 345.3 93.7 346.0 93.7 346.0 77.7 346.8 77.7 346.8 83.3 347.6 83.3 347.6 77.2 348.4 77.2 348.4 65.0 349.1 65.0 349.1 57.0 349.9 57.0 349.9 69.1 350.7 69.1 350.7 56.5 351.5 56.5 351.5 62.1 352.3 62.1 352.3 54.7 353.0 54.7 353.0 49.8 353.8 49.8 353.8 44.9 354.6 44.9 354.6 37.0 355.4 37.0 355.4 36.9 356.1 36.9 356.1 35.7 356.9 35.7 356.9 12.5 357.7 12.5 357.7 24.6 358.5 24.6 358.5 18.8 359.3 18.8 359.3 34.6 360.0 34.6 360.0 28.9 360.8 28.9 360.8 30.5 361.6 30.5 361.6 29.2 362.4 29.2 362.4 10.8 363.2 10.8 363.2 24.2 363.9 24.2 363.9 43.2 364.7 43.2 364.7 43.9 365.5 43.9 365.5 49.7 366.3 49.7 366.3 59.1 367.0 59.1 367.0 69.6 367.8 69.6 367.8 81.8 368.6 81.8 368.6 90.0 369.4 90.0 369.4 96.3 370.2 96.3 370.2 95.8 370.9 95.8 370.9 108.4 371.7 108.4 371.7 113.8 372.5 113.8 372.5 116.5 373.3 116.5 373.3 123.4 374.0 123.4 374.0 130.1 374.8 130.1 374.8 132.0 375.6 132.0 375.6 131.2 376.4 131.2 376.4 135.1 377.2 135.1 377.2 142.3 377.9 142.3 377.9 147.0 378.7 147.0 378.7 141.0 379.5 141.0 379.5 152.7 380.3 152.7 380.3 154.6 381.1 154.6 381.1 154.5 381.8 154.5 381.8 156.1 382.6 156.1 382.6 156.4 383.4 156.4 383.4 158.5 384.2 158.5 384.2 155.6 384.9 155.6 384.9 156.3 385.7 156.3 385.7 158.9 386.5 158.9 386.5 159.1 387.3 159.1 387.3 158.4 388.1 158.4 388.1 160.2 388.8 160.2 388.8 154.6 389.6 154.6 389.6 158.1 390.4 158.1 390.4 161.5 391.2 161.5 391.2 155.9 391.9 155.9 391.9 157.2 392.7 157.2 392.7 163.3 393.5 163.3 393.5 163.9 394.3 163.9 394.3 159.9 395.1 159.9 395.1 164.6 395.8 164.6 395.8 163.3 396.6 163.3 396.6 160.7 397.4 160.7 397.4 164.1 398.2 164.1 398.2 162.4 398.9 162.4 398.9 156.4 399.7 156.4 399.7 158.9 400.5 158.9 400.5 157.8 401.3 157.8 401.3 156.5 402.1 156.5 402.1 162.2 402.8 162.2 402.8 163.9 403.6 163.9 403.6 156.3 404.4 156.3 404.4 163.3 405.2 163.3 405.2 154.4 405.9 154.4 405.9 161.2 406.7 161.2 406.7 163.5 407.5 163.5 407.5 160.2 408.3 160.2 408.3 162.7 409.1 162.7 409.1 162.5 409.8 162.5 409.8 163.5 410.6 163.5 410.6 159.3 411.4 159.3 411.4 159.6 412.2 159.6 412.2 159.5 413.0 159.5 413.0 164.8 413.7 164.8 413.7 159.7 414.5 159.7 414.5 162.8 415.3 162.8 415.3 148.0 416.1 148.0 416.1 167.5 416.8 167.5 416.8 163.2 417.6 163.2 417.6 163.8 418.4 163.8 418.4 169.8 419.2 169.8 419.2 164.9 420.0 164.9 420.0 170.4 420.7 170.4 420.7 168.3 421.5 168.3 421.5 171.8 422.3 171.8 422.3 169.0 423.1 169.0 423.1 172.8 423.8 172.8 423.8 171.2 424.6 171.2 424.6 172.2 425.4 172.2 425.4 170.1 426.2 170.1 426.2 170.7 427.0 170.7 427.0 170.4 427.7 170.4 427.7 174.1 428.5 174.1 428.5 173.1 429.3 173.1 429.3 172.1 430.1 172.1 430.1 174.4 430.8 174.4 430.9 173.1 431.6 173.1 431.6 173.8 432.4 173.8 432.4 171.7 433.2 171.7 433.2 173.3 434.0 173.3 434.0 174.0 434.7 174.0 434.7 175.2 435.5 175.2 435.5 175.8 436.3 175.8 436.3 175.4 437.1 175.4 437.1 176.1 437.9 176.1 437.9 173.9 438.6 173.9 438.6 177.5 439.4 177.5 439.4 177.5 440.2 177.5 440.2 175.3 441.0 175.3 441.0 173.0 441.7 173.0 441.7 173.8 442.5 173.8 442.5 177.6 443.3 177.6 443.3 175.9 444.1 175.9 444.1 177.9 444.9 177.9 444.9 177.9 445.6 177.9 445.6 177.6 446.4 177.6 446.4 178.6 447.2 178.6 447.2 174.1 448.0 174.1 448.0 178.1 448.7 178.1 448.7 178.7 449.5 178.7 449.5 178.2 450.3 178.2 450.3 178.9 451.1 178.9 451.1 179.2 451.9 179.2 451.9 178.1 452.6 178.1 452.6 180.6 453.4 180.6 453.4 179.3 454.2 179.3 454.2 180.5 455.0 180.5 455.0 178.9 455.8 178.9 455.8 181.6 456.5 181.6 456.5 181.3 457.3 181.3 457.3 181.1 458.1 181.1 458.1 180.6 458.9 180.6 458.9 181.1 459.6 181.1 459.6 181.8 460.4 181.8 460.4 181.6 461.2 181.6 461.2 181.0 462.0 181.0 462.0 182.0 462.8 182.0 462.8 181.7 463.5 181.7 463.5 182.3 510.2 182.3 510.2 180.1 511.0 180.1 511.0 179.1 511.8 179.1 511.8 180.8 512.6 180.8 512.6 179.7 513.3 179.7 513.3 182.3 514.1 182.3 514.1 181.5 514.9 181.5 514.9 180.3 515.7 180.3 515.7 182.3 516.4 182.3 516.4 181.1 517.2 181.1 517.2 176.3 518.0 176.3 518.0 182.3Z" fill="#000"/>
<path d="M318.8 179.7 319.6 179.7 319.6 179.7 320.4 179.7 320.4 179.0 321.1 179.0 321.1 180.3 321.9 180.3 321.9 181.2 322.7 181.2 322.7 180.5 323.5 180.5 323.5 179.9 324.2 179.9 324.2 179.8 325.0 179.8 325.0 180.3 325.8 180.3 325.8 178.9 326.6 178.9 326.6 177.8 327.4 177.8 327.4 178.6 328.1 178.6 328.1 180.4 328.9 180.4 328.9 179.9 329.7 179.9 329.7 179.4 330.5 179.4 330.5 179.1 331.2 179.1 331.2 180.7 332.0 180.7 332.0 181.0 332.8 181.0 332.8 177.8 333.6 177.8 333.6 174.6 334.4 174.6 334.4 176.4 335.1 176.4 335.1 174.6 335.9 174.6 335.9 175.5 336.7 175.5 336.7 175.2 337.5 175.2 337.5 177.2 338.3 177.2 338.3 171.0 339.0 171.0 339.0 175.6 339.8 175.6 339.8 172.0 340.6 172.0 340.6 171.9 341.4 171.9 341.4 175.4 342.1 175.4 342.1 169.9 342.9 169.9 342.9 173.0 343.7 173.0 343.7 166.2 344.5 166.2 344.5 166.9 345.3 166.9 345.3 169.5 346.0 169.5 346.0 169.1 346.8 169.1 346.8 167.4 347.6 167.4 347.6 163.4 348.4 163.4 348.4 165.2 349.1 165.2 349.1 156.3 349.9 156.3 349.9 167.7 350.7 167.7 350.7 160.9 351.5 160.9 351.5 152.5 352.3 152.5 352.3 168.8 353.0 168.8 353.0 160.7 353.8 160.7 353.8 155.5 354.6 155.5 354.6 163.9 355.4 163.9 355.4 149.6 356.1 149.6 356.1 162.1 356.9 162.1 356.9 151.5 357.7 151.5 357.7 151.8 358.5 151.8 358.5 152.8 359.3 152.8 359.3 132.2 360.0 132.2 360.0 148.3 360.8 148.3 360.8 128.9 361.6 128.9 361.6 133.7 362.4 133.7 362.4 125.3 363.2 125.3 363.2 133.5 363.9 133.5 363.9 136.5 364.7 136.5 364.7 130.6 365.5 130.6 365.5 117.3 366.3 117.3 366.3 136.6 367.0 136.6 367.0 120.3 367.8 120.3 367.8 113.5 368.6 113.5 368.6 116.8 369.4 116.8 369.4 121.4 370.2 121.4 370.2 104.5 370.9 104.5 370.9 104.6 371.7 104.6 371.7 100.6 372.5 100.6 372.5 100.8 373.3 100.8 373.3 116.5 374.0 116.5 374.0 110.8 374.8 110.8 374.8 111.9 375.6 111.9 375.6 113.1 376.4 113.1 376.4 109.8 377.2 109.8 377.2 113.4 377.9 113.4 377.9 94.0 378.7 94.0 378.7 99.9 379.5 99.9 379.5 108.8 380.3 108.8 380.3 109.2 381.1 109.2 381.1 91.7 381.8 91.7 381.8 113.0 382.6 113.0 382.6 100.0 383.4 100.0 383.4 117.7 384.2 117.7 384.2 107.7 384.9 107.7 384.9 96.6 385.7 96.6 385.7 99.5 386.5 99.5 386.5 112.8 387.3 112.8 387.3 109.2 388.1 109.2 388.1 106.1 388.8 106.1 388.8 119.4 389.6 119.4 389.6 124.6 390.4 124.6 390.4 106.0 391.2 106.0 391.2 117.9 391.9 117.9 391.9 113.1 392.7 113.1 392.7 93.3 393.5 93.3 393.5 121.9 394.3 121.9 394.3 113.0 395.1 113.0 395.1 111.5 395.8 111.5 395.8 104.9 396.6 104.9 396.6 114.9 397.4 114.9 397.4 99.4 398.2 99.4 398.2 117.1 398.9 117.1 398.9 104.7 399.7 104.7 399.7 101.5 400.5 101.5 400.5 107.2 401.3 107.2 401.3 108.1 402.1 108.1 402.1 103.7 402.8 103.7 402.8 116.6 403.6 116.6 403.6 108.6 404.4 108.6 404.4 118.1 405.2 118.1 405.2 113.5 405.9 113.5 405.9 125.9 406.7 125.9 406.7 128.8 407.5 128.8 407.5 127.5 408.3 127.5 408.3 120.3 409.1 120.3 409.1 116.5 409.8 116.5 409.8 129.1 410.6 129.1 410.6 119.1 411.4 119.1 411.4 129.3 412.2 129.3 412.2 126.1 413.0 126.1 413.0 130.8 413.7 130.8 413.7 130.5 414.5 130.5 414.5 131.4 415.3 131.4 415.3 137.5 416.1 137.5 416.1 130.1 416.8 130.1 416.8 135.6 417.6 135.6 417.6 124.5 418.4 124.5 418.4 132.7 419.2 132.7 419.2 129.8 420.0 129.8 420.0 133.1 420.7 133.1 420.7 137.6 421.5 137.6 421.5 130.7 422.3 130.7 422.3 140.4 423.1 140.4 423.1 136.9 423.8 136.9 423.8 133.1 424.6 133.1 424.6 135.7 425.4 135.7 425.4 135.4 426.2 135.4 426.2 137.4 427.0 137.4 427.0 141.2 427.7 141.2 427.7 146.9 428.5 146.9 428.5 140.3 429.3 140.3 429.3 132.7 430.1 132.7 430.1 139.7 430.8 139.7 430.9 146.5 431.6 146.5 431.6 155.0 432.4 155.0 432.4 141.4 433.2 141.4 433.2 146.5 434.0 146.5 434.0 153.5 434.7 153.5 434.7 152.4 435.5 152.4 435.5 154.0 436.3 154.0 436.3 148.1 437.1 148.1 437.1 155.2 437.9 155.2 437.9 151.4 438.6 151.4 438.6 153.2 439.4 153.2 439.4 155.1 440.2 155.1 440.2 157.9 441.0 157.9 441.0 156.1 441.7 156.1 441.7 155.3 442.5 155.3 442.5 156.2 443.3 156.2 443.3 157.9 444.1 157.9 444.1 159.8 444.9 159.8 444.9 163.6 445.6 163.6 445.6 164.3 446.4 164.3 446.4 166.7 447.2 166.7 447.2 163.4 448.0 163.4 448.0 161.2 448.7 161.2 448.7 171.5 449.5 171.5 449.5 166.9 450.3 166.9 450.3 170.7 451.1 170.7 451.1 169.0 451.9 169.0 451.9 171.4 452.6 171.4 452.6 170.1 453.4 170.1 453.4 174.0 454.2 174.0 454.2 174.2 455.0 174.2 455.0 175.6 455.8 175.6 455.8 171.0 456.5 171.0 456.5 172.8 457.3 172.8 457.3 176.8 458.1 176.8 458.1 178.8 458.9 178.8 458.9 179.0 459.6 179.0 459.6 181.0 460.4 181.0 460.4 174.9 461.2 174.9 461.2 177.3 462.0 177.3 462.0 175.5 462.8 175.5 462.8 174.9 463.5 174.9 463.5 179.0 464.3 179.0 464.3 181.4 465.1 181.4 465.1 180.3 465.9 180.3 465.9 181.8 466.6 181.8 466.6 181.6 467.4 181.6 467.4 179.1 468.2 179.1 468.2 179.9 469.0 179.9 469.0 179.3 469.8 179.3 469.8 182.3 470.5 182.3 470.5 181.6 471.3 181.6 471.3 182.3 472.1 182.3 472.1 182.0 472.9 182.0 472.9 181.7 473.6 181.7 473.6 182.2 474.4 182.2 474.4 182.3 518.0 182.3" fill="none" stroke="#333" stroke-width="0.9" stroke-dasharray="2.5 1.5"/>
<path d="M318.8 179.7 319.6 179.7 319.6 179.7 320.4 179.7 320.4 179.0 321.1 179.0 321.1 180.3 321.9 180.3 321.9 181.2 322.7 181.2 322.7 180.5 323.5 180.5 323.5 179.9 324.2 179.9 324.2 179.8 325.0 179.8 325.0 180.3 325.8 180.3 325.8 178.9 326.6 178.9 326.6 177.8 327.4 177.8 327.4 178.6 328.1 178.6 328.1 180.4 328.9 180.4 328.9 179.9 329.7 179.9 329.7 179.4 330.5 179.4 330.5 179.1 331.2 179.1 331.2 180.7 332.0 180.7 332.0 181.0 332.8 181.0 332.8 177.8 333.6 177.8 333.6 174.6 334.4 174.6 334.4 176.4 335.1 176.4 335.1 174.6 335.9 174.6 335.9 175.5 336.7 175.5 336.7 175.2 337.5 175.2 337.5 177.2 338.3 177.2 338.3 171.0 339.0 171.0 339.0 175.6 339.8 175.6 339.8 172.0 340.6 172.0 340.6 171.9 341.4 171.9 341.4 175.4 342.1 175.4 342.1 169.9 342.9 169.9 342.9 173.0 343.7 173.0 343.7 166.2 344.5 166.2 344.5 166.9 345.3 166.9 345.3 169.5 346.0 169.5 346.0 169.1 346.8 169.1 346.8 167.4 347.6 167.4 347.6 163.4 348.4 163.4 348.4 165.2 349.1 165.2 349.1 156.3 349.9 156.3 349.9 167.7 350.7 167.7 350.7 160.9 351.5 160.9 351.5 152.5 352.3 152.5 352.3 168.8 353.0 168.8 353.0 160.7 353.8 160.7 353.8 155.5 354.6 155.5 354.6 163.9 355.4 163.9 355.4 149.6 356.1 149.6 356.1 162.1 356.9 162.1 356.9 151.5 357.7 151.5 357.7 151.8 358.5 151.8 358.5 152.8 359.3 152.8 359.3 132.2 360.0 132.2 360.0 148.3 360.8 148.3 360.8 128.9 361.6 128.9 361.6 133.7 362.4 133.7 362.4 125.3 363.2 125.3 363.2 133.5 363.9 133.5 363.9 136.5 364.7 136.5 364.7 130.6 365.5 130.6 365.5 117.3 366.3 117.3 366.3 136.6 367.0 136.6 367.0 120.3 367.8 120.3 367.8 113.5 368.6 113.5 368.6 116.8 369.4 116.8 369.4 121.4 370.2 121.4 370.2 104.5 370.9 104.5 370.9 104.6 371.7 104.6 371.7 100.6 372.5 100.6 372.5 100.8 373.3 100.8 373.3 116.5 374.0 116.5 374.0 110.8 374.8 110.8 374.8 111.9 375.6 111.9 375.6 113.1 376.4 113.1 376.4 109.8 377.2 109.8 377.2 113.4 377.9 113.4 377.9 94.0 378.7 94.0 378.7 99.9 379.5 99.9 379.5 108.8 380.3 108.8 380.3 109.2 381.1 109.2 381.1 91.7 381.8 91.7 381.8 113.0 382.6 113.0 382.6 100.0 383.4 100.0 383.4 117.7 384.2 117.7 384.2 107.7 384.9 107.7 384.9 96.6 385.7 96.6 385.7 99.5 386.5 99.5 386.5 112.8 387.3 112.8 387.3 109.2 388.1 109.2 388.1 106.1 388.8 106.1 388.8 119.4 389.6 119.4 389.6 124.6 390.4 124.6 390.4 106.0 391.2 106.0 391.2 117.9 391.9 117.9 391.9 113.1 392.7 113.1 392.7 93.3 393.5 93.3 393.5 121.9 394.3 121.9 394.3 113.0 395.1 113.0 395.1 111.5 395.8 111.5 395.8 104.9 396.6 104.9 396.6 114.9 397.4 114.9 397.4 99.4 398.2 99.4 398.2 117.1 398.9 117.1 398.9 104.7 399.7 104.7 399.7 101.5 400.5 101.5 400.5 107.2 401.3 107.2 401.3 108.1 402.1 108.1 402.1 103.7 402.8 103.7 402.8 116.6 403.6 116.6 403.6 108.6 404.4 108.6 404.4 118.1 405.2 118.1 405.2 113.5 405.9 113.5 405.9 125.9 406.7 125.9 406.7 128.8 407.5 128.8 407.5 127.5 408.3 127.5 408.3 120.3 409.1 120.3 409.1 116.5 409.8 116.5 409.8 129.1 410.6 129.1 410.6 119.1 411.4 119.1 411.4 129.3 412.2 129.3 412.2 126.1 413.0 126.1 413.0 130.8 413.7 130.8 413.7 130.5 414.5 130.5 414.5 131.4 415.3 131.4 415.3 137.5 416.1 137.5 416.1 130.1 416.8 130.1 416.8 135.6 417.6 135.6 417.6 124.5 418.4 124.5 418.4 132.7 419.2 132.7 419.2 129.8 420.0 129.8 420.0 133.1 420.7 133.1 420.7 137.6 421.5 137.6 421.5 130.7 422.3 130.7 422.3 140.4 423.1 140.4 423.1 136.9 423.8 136.9 423.8 133.1 424.6 133.1 424.6 135.7 425.4 135.7 425.4 135.4 426.2 135.4 426.2 137.4 427.0 137.4 427.0 141.2 427.7 141.2 427.7 146.9 428.5 146.9 428.5 140.3 429.3 140.3 429.3 132.7 430.1 132.7 430.1 139.7 430.8 139.7 430.9 146.5 431.6 146.5 431.6 155.0 432.4 155.0 432.4 141.4 433.2 141.4 433.2 146.5 434.0 146.5 434.0 153.5 434.7 153.5 434.7 152.4 435.5 152.4 435.5 154.0 436.3 154.0 436.3 148.1 437.1 148.1 437.1 155.2 437.9 155.2 437.9 151.4 438.6 151.4 438.6 153.2 439.4 153.2 439.4 155.1 440.2 155.1 440.2 157.9 441.0 157.9 441.0 156.1 441.7 156.1 441.7 155.3 442.5 155.3 442.5 156.2 443.3 156.2 443.3 157.9 444.1 157.9 444.1 159.8 444.9 159.8 444.9 163.6 445.6 163.6 445.6 164.3 446.4 164.3 446.4 166.7 447.2 166.7 447.2 163.4 448.0 163.4 448.0 161.2 448.7 161.2 448.7 171.5 449.5 171.5 449.5 166.9 450.3 166.9 450.3 170.7 451.1 170.7 451.1 169.0 451.9 169.0 451.9 171.4 452.6 171.4 452.6 170.1 453.4 170.1 453.4 174.0 454.2 174.0 454.2 174.2 455.0 174.2 455.0 175.6 455.8 175.6 455.8 171.0 456.5 171.0 456.5 172.8 457.3 172.8 457.3 176.8 458.1 176.8 458.1 178.8 458.9 178.8 458.9 179.0 459.6 179.0 459.6 181.0 460.4 181.0 460.4 174.9 461.2 174.9 461.2 177.3 462.0 177.3 462.0 175.5 462.8 175.5 462.8 174.9 463.5 174.9 463.5 179.0 464.3 179.0 464.3 181.4 465.1 181.4 465.1 180.3 465.9 180.3 465.9 181.8 466.6 181.8 466.6 181.6 467.4 181.6 467.4 179.1 468.2 179.1 468.2 179.9 469.0 179.9 469.0 179.3 469.8 179.3 469.8 182.3 470.5 182.3 470.5 181.6 471.3 181.6 471.3 182.3 472.1 182.3 472.1 182.0 472.9 182.0 472.9 181.7 473.6 181.7 473.6 182.2 474.4 182.2 474.4 182.3 518.0 182.3" fill="none" stroke="#fff" stroke-width="0.7" clip-path="url(#clipC)"/>
<path d="M62.0 411.8 62.0 401.7 62.8 401.7 62.8 400.8 63.6 400.8 63.6 397.9 64.4 397.9 64.4 399.4 65.1 399.4 65.1 398.9 65.9 398.9 65.9 402.3 66.7 402.3 66.7 403.2 67.5 403.2 67.5 402.9 68.3 402.9 68.3 401.6 69.1 401.6 69.1 402.1 69.9 402.1 69.9 402.9 70.7 402.9 70.7 404.1 71.4 404.1 71.4 401.3 72.2 401.3 72.2 399.7 73.0 399.7 73.0 397.0 74.6 397.0 74.6 392.5 75.4 392.5 75.4 397.2 76.2 397.2 76.2 392.6 77.0 392.6 77.0 391.9 77.7 391.9 77.7 384.8 78.5 384.8 78.5 389.9 79.3 389.9 79.3 386.1 80.1 386.1 80.1 387.6 80.9 387.6 80.9 383.7 81.7 383.7 81.7 381.2 82.5 381.2 82.5 380.3 83.3 380.3 83.3 377.7 84.0 377.7 84.0 375.2 84.8 375.2 84.8 374.4 85.6 374.4 85.6 373.2 86.4 373.2 86.4 361.5 87.2 361.5 87.2 368.4 88.0 368.4 88.0 364.8 88.8 364.8 88.8 363.1 89.5 363.1 89.5 360.2 90.3 360.2 90.3 344.7 91.1 344.7 91.1 346.6 91.9 346.6 91.9 340.3 92.7 340.3 92.7 316.0 93.5 316.0 93.5 337.5 94.3 337.5 94.3 325.3 95.1 325.3 95.1 323.7 95.8 323.7 95.8 312.8 96.6 312.8 96.6 313.2 97.4 313.2 97.4 304.9 98.2 304.9 98.2 290.0 99.0 290.0 99.0 283.5 99.8 283.5 99.8 275.0 100.6 275.0 100.6 296.0 101.4 296.0 101.4 289.1 102.1 289.1 102.1 277.0 102.9 277.0 102.9 291.1 103.7 291.1 103.7 295.9 104.5 295.9 104.5 293.1 105.3 293.1 105.3 288.7 106.1 288.7 106.1 273.6 106.9 273.6 106.9 292.5 107.7 292.5 107.7 283.3 108.4 283.3 108.4 269.3 109.2 269.3 109.2 289.1 110.0 289.1 110.0 296.3 110.8 296.3 110.8 284.8 111.6 284.8 111.6 295.6 112.4 295.6 112.4 298.2 113.2 298.2 113.2 308.4 113.9 308.4 113.9 297.3 114.7 297.3 114.7 318.9 115.5 318.9 115.5 329.3 116.3 329.3 116.3 336.4 117.1 336.4 117.1 346.9 117.9 346.9 117.9 342.2 118.7 342.2 118.7 358.8 119.5 358.8 119.5 357.9 120.2 357.9 120.2 359.0 121.0 359.0 121.0 365.0 121.8 365.0 121.8 354.5 122.6 354.5 122.6 370.8 123.4 370.8 123.4 371.4 124.2 371.4 124.2 371.2 125.0 371.2 125.0 373.7 125.8 373.7 125.8 378.1 126.5 378.1 126.5 369.5 127.3 369.5 127.3 380.5 128.1 380.5 128.1 381.2 128.9 381.2 128.9 377.3 129.7 377.3 129.7 382.0 130.5 382.0 130.5 382.1 131.3 382.1 131.3 379.7 132.1 379.7 132.1 379.8 132.8 379.8 132.8 384.7 133.6 384.7 133.6 383.0 134.4 383.0 134.4 385.2 135.2 385.2 135.2 381.2 136.0 381.2 136.0 380.6 136.8 380.6 136.8 386.5 137.6 386.5 137.6 384.4 138.3 384.4 138.3 375.0 139.1 375.0 139.1 387.7 139.9 387.7 139.9 389.8 140.7 389.8 140.7 387.5 141.5 387.5 141.5 385.4 142.3 385.4 142.3 389.7 143.1 389.7 143.1 388.9 143.9 388.9 143.9 389.7 144.6 389.7 144.6 387.0 145.4 387.0 145.4 388.6 146.2 388.6 146.2 389.2 147.0 389.2 147.0 389.4 147.8 389.4 147.8 392.3 148.6 392.3 148.6 391.3 149.4 391.3 149.4 385.2 150.2 385.2 150.2 391.2 150.9 391.2 150.9 389.9 151.7 389.9 151.7 387.1 152.5 387.1 152.5 389.8 153.3 389.8 153.3 385.7 154.1 385.7 154.1 388.5 154.9 388.5 154.9 393.1 155.7 393.1 155.7 390.8 156.5 390.8 156.5 391.1 157.2 391.1 157.2 383.3 158.0 383.3 158.0 390.0 158.8 390.0 158.8 388.9 159.6 388.9 159.6 393.1 160.4 393.1 160.4 391.3 161.2 391.3 161.2 389.6 162.0 389.6 162.0 390.7 162.8 390.7 162.8 392.1 163.5 392.1 163.5 387.6 164.3 387.6 164.3 381.7 165.1 381.7 165.1 389.0 165.9 389.0 165.9 389.8 166.7 389.8 166.7 389.4 167.5 389.4 167.5 390.8 168.3 390.8 168.3 391.4 169.0 391.4 169.0 386.7 169.8 386.7 169.8 389.2 170.6 389.2 170.6 380.5 171.4 380.5 171.4 390.0 172.2 390.0 172.2 393.0 173.0 393.0 173.0 391.0 173.8 391.0 173.8 389.0 174.6 389.0 174.6 384.1 175.3 384.1 175.3 390.3 176.1 390.3 176.1 392.8 176.9 392.8 176.9 386.9 177.7 386.9 177.7 394.1 178.5 394.1 178.5 392.2 179.3 392.2 179.3 392.1 180.1 392.1 180.1 396.5 180.9 396.5 180.9 396.2 181.6 396.2 181.6 390.3 182.4 390.3 182.4 397.9 183.2 397.9 183.2 398.1 184.0 398.1 184.0 395.5 184.8 395.5 184.8 400.0 185.6 400.0 185.6 400.1 186.4 400.1 186.4 397.1 187.2 397.1 187.2 400.7 187.9 400.7 187.9 395.3 188.7 395.3 188.7 401.2 189.5 401.2 189.5 399.3 190.3 399.3 190.3 400.7 191.1 400.7 191.1 402.2 192.7 402.2 192.7 400.8 193.4 400.8 193.4 402.6 194.2 402.6 194.2 399.6 195.0 399.6 195.0 402.3 195.8 402.3 195.8 402.3 196.6 402.3 196.6 401.6 197.4 401.6 197.4 401.2 198.2 401.2 198.2 402.7 199.0 402.7 199.0 404.8 199.7 404.8 199.7 404.7 200.5 404.7 200.5 406.2 201.3 406.2 201.3 406.6 202.1 406.6 202.1 405.5 202.9 405.5 202.9 408.3 203.7 408.3 203.7 407.3 204.5 407.3 204.5 407.7 205.3 407.7 205.3 407.6 206.0 407.6 206.0 406.0 206.8 406.0 206.8 406.6 207.6 406.6 207.6 408.5 208.4 408.5 208.4 406.8 209.2 406.8 209.2 410.2 210.0 410.2 210.0 409.3 210.8 409.3 210.8 408.8 211.6 408.8 211.6 410.2 212.3 410.2 212.3 410.5 213.1 410.5 213.1 411.4 213.9 411.4 213.9 411.0 214.7 411.0 214.7 411.5 215.5 411.5 215.5 411.7 216.3 411.7 216.3 411.5 217.1 411.5 217.1 411.7 217.8 411.7 217.8 410.7 218.6 410.7 218.6 411.8 255.6 411.8 255.6 409.6 256.4 409.6 256.4 408.6 257.2 408.6 257.2 410.3 258.0 410.3 258.0 409.2 258.8 409.2 258.8 411.8 259.6 411.8 259.6 411.0 260.4 411.0 260.4 409.8 261.1 409.8 261.1 411.8 261.9 411.8 261.9 410.6 262.7 410.6 262.7 403.8 263.5 403.8 263.5 411.8Z" fill="#000"/>
<path d="M62.0 411.3 62.8 411.3 62.8 408.5 63.6 408.5 63.6 409.8 64.4 409.8 64.4 408.5 65.1 408.5 65.1 408.1 65.9 408.1 65.9 411.7 66.7 411.7 66.7 407.4 67.5 407.4 67.5 409.7 68.3 409.7 68.3 410.1 69.1 410.1 69.1 405.6 69.9 405.6 69.9 410.4 70.7 410.4 70.7 410.3 71.4 410.3 71.4 408.7 72.2 408.7 72.2 404.1 73.0 404.1 73.0 404.8 73.8 404.8 73.8 406.8 74.6 406.8 74.6 402.5 75.4 402.5 75.4 407.7 76.2 407.7 76.2 409.7 77.0 409.7 77.0 404.2 77.7 404.2 77.7 405.0 78.5 405.0 78.5 404.5 79.3 404.5 79.3 407.6 80.1 407.6 80.1 403.6 80.9 403.6 80.9 404.0 81.7 404.0 81.7 407.4 82.5 407.4 82.5 402.9 83.3 402.9 83.3 403.2 84.0 403.2 84.0 399.9 84.8 399.9 84.8 404.2 85.6 404.2 85.6 402.2 86.4 402.2 86.4 400.1 87.2 400.1 87.2 405.6 88.0 405.6 88.0 403.4 88.8 403.4 88.8 404.4 89.5 404.4 89.5 402.9 90.3 402.9 90.3 397.2 91.1 397.2 91.1 398.7 91.9 398.7 91.9 398.5 92.7 398.5 92.7 396.8 93.5 396.8 93.5 394.1 94.3 394.1 94.3 388.9 95.1 388.9 95.1 389.7 95.8 389.7 95.8 384.3 96.6 384.3 96.6 387.2 97.4 387.2 97.4 386.3 98.2 386.3 98.2 382.6 99.0 382.6 99.0 383.1 99.8 383.1 99.8 376.9 100.6 376.9 100.6 389.9 101.4 389.9 101.4 377.0 102.1 377.0 102.1 375.5 102.9 375.5 102.9 376.0 103.7 376.0 103.7 365.1 104.5 365.1 104.5 361.0 105.3 361.0 105.3 358.3 106.1 358.3 106.1 367.8 106.9 367.8 106.9 358.0 107.7 358.0 107.7 369.1 108.4 369.1 108.4 359.4 109.2 359.4 109.2 355.7 110.0 355.7 110.0 353.3 110.8 353.3 110.8 350.7 111.6 350.7 111.6 339.8 112.4 339.8 112.4 355.6 113.2 355.6 113.2 338.1 113.9 338.1 113.9 341.4 114.7 341.4 114.7 337.7 115.5 337.7 115.5 325.3 116.3 325.3 116.3 326.4 117.1 326.4 117.1 334.2 117.9 334.2 117.9 317.7 118.7 317.7 118.7 334.9 119.5 334.9 119.5 332.7 120.2 332.7 120.2 327.8 121.0 327.8 121.0 339.5 121.8 339.5 121.8 338.5 122.6 338.5 122.6 308.5 123.4 308.5 123.4 347.4 124.2 347.4 124.2 340.6 125.0 340.6 125.0 350.7 125.8 350.7 125.8 319.8 126.5 319.8 126.5 339.8 127.3 339.8 127.3 331.9 128.1 331.9 128.1 346.2 128.9 346.2 128.9 321.4 129.7 321.4 129.7 346.0 130.5 346.0 130.5 339.2 131.3 339.2 131.3 318.8 132.1 318.8 132.1 330.9 132.8 330.9 132.8 338.9 133.6 338.9 133.6 326.6 134.4 326.6 134.4 335.0 135.2 335.0 135.2 336.0 136.0 336.0 136.0 340.8 136.8 340.8 136.8 343.5 137.6 343.5 137.6 342.9 138.3 342.9 138.3 342.4 139.1 342.4 139.1 341.5 139.9 341.5 139.9 335.4 140.7 335.4 140.7 336.0 141.5 336.0 141.5 337.8 142.3 337.8 142.3 336.6 143.1 336.6 143.1 339.0 143.9 339.0 143.9 331.3 144.6 331.3 144.6 334.1 145.4 334.1 145.4 325.5 146.2 325.5 146.2 323.0 147.0 323.0 147.0 325.0 147.8 325.0 147.8 341.8 148.6 341.8 148.6 344.4 149.4 344.4 149.4 342.4 150.2 342.4 150.2 354.5 150.9 354.5 150.9 349.0 151.7 349.0 151.7 348.3 152.5 348.3 152.5 351.4 153.3 351.4 153.3 351.7 154.1 351.7 154.1 363.7 154.9 363.7 154.9 344.4 155.7 344.4 155.7 357.6 156.5 357.6 156.5 373.2 157.2 373.2 157.2 346.6 158.0 346.6 158.0 354.5 158.8 354.5 158.8 356.4 159.6 356.4 159.6 360.3 160.4 360.3 160.4 362.3 161.2 362.3 161.2 356.9 162.0 356.9 162.0 346.8 162.8 346.8 162.8 358.1 163.5 358.1 163.5 357.1 164.3 357.1 164.3 363.0 165.1 363.0 165.1 371.8 165.9 371.8 165.9 366.4 166.7 366.4 166.7 367.1 167.5 367.1 167.5 363.7 168.3 363.7 168.3 365.4 169.0 365.4 169.0 368.8 169.8 368.8 169.8 377.7 170.6 377.7 170.6 378.5 171.4 378.5 171.4 376.6 172.2 376.6 172.2 384.0 173.0 384.0 173.0 380.3 173.8 380.3 173.8 369.5 174.6 369.5 174.6 378.3 175.3 378.3 175.3 384.6 176.1 384.6 176.1 386.2 176.9 386.2 176.9 378.5 177.7 378.5 177.7 379.2 178.5 379.2 178.5 380.5 179.3 380.5 179.3 379.9 180.1 379.9 180.1 383.5 180.9 383.5 180.9 383.0 181.6 383.0 181.6 388.9 182.4 388.9 182.4 385.8 183.2 385.8 183.2 384.3 184.0 384.3 184.0 391.8 184.8 391.8 184.8 387.8 185.6 387.8 185.6 386.7 186.4 386.7 186.4 377.2 187.2 377.2 187.2 384.8 187.9 384.8 187.9 385.7 188.7 385.7 188.7 383.9 189.5 383.9 189.5 389.2 190.3 389.2 190.3 382.1 191.1 382.1 191.1 394.6 191.9 394.6 191.9 397.6 192.7 397.6 192.7 394.1 193.4 394.1 193.4 398.0 194.2 398.0 194.2 401.0 195.0 401.0 195.0 399.6 195.8 399.6 195.8 407.3 196.6 407.3 196.6 400.4 197.4 400.4 197.4 403.9 198.2 403.9 198.2 402.4 199.0 402.4 199.0 405.8 199.7 405.8 199.7 405.4 200.5 405.4 200.5 402.9 201.3 402.9 201.3 408.0 202.1 408.0 202.1 404.2 202.9 404.2 202.9 407.8 203.7 407.8 203.7 403.1 204.5 403.1 204.5 410.4 205.3 410.4 205.3 406.0 206.0 406.0 206.0 409.0 206.8 409.0 206.8 406.3 207.6 406.3 207.6 410.2 208.4 410.2 208.4 411.4 209.2 411.4 209.2 409.9 210.8 409.8 210.8 410.8 211.6 410.8 211.6 410.7 212.3 410.7 212.3 411.3 213.1 411.3 213.1 411.6 213.9 411.6 213.9 411.8 214.7 411.8 214.7 410.7 215.5 410.7 215.5 410.8 216.3 410.8 216.3 411.8 217.1 411.8 217.1 410.7 217.8 410.7 217.8 411.7 218.6 411.7 218.6 411.5 219.4 411.5 219.4 411.8 263.5 411.8" fill="none" stroke="#333" stroke-width="0.9" stroke-dasharray="2.5 1.5"/>
<path d="M62.0 411.3 62.8 411.3 62.8 408.5 63.6 408.5 63.6 409.8 64.4 409.8 64.4 408.5 65.1 408.5 65.1 408.1 65.9 408.1 65.9 411.7 66.7 411.7 66.7 407.4 67.5 407.4 67.5 409.7 68.3 409.7 68.3 410.1 69.1 410.1 69.1 405.6 69.9 405.6 69.9 410.4 70.7 410.4 70.7 410.3 71.4 410.3 71.4 408.7 72.2 408.7 72.2 404.1 73.0 404.1 73.0 404.8 73.8 404.8 73.8 406.8 74.6 406.8 74.6 402.5 75.4 402.5 75.4 407.7 76.2 407.7 76.2 409.7 77.0 409.7 77.0 404.2 77.7 404.2 77.7 405.0 78.5 405.0 78.5 404.5 79.3 404.5 79.3 407.6 80.1 407.6 80.1 403.6 80.9 403.6 80.9 404.0 81.7 404.0 81.7 407.4 82.5 407.4 82.5 402.9 83.3 402.9 83.3 403.2 84.0 403.2 84.0 399.9 84.8 399.9 84.8 404.2 85.6 404.2 85.6 402.2 86.4 402.2 86.4 400.1 87.2 400.1 87.2 405.6 88.0 405.6 88.0 403.4 88.8 403.4 88.8 404.4 89.5 404.4 89.5 402.9 90.3 402.9 90.3 397.2 91.1 397.2 91.1 398.7 91.9 398.7 91.9 398.5 92.7 398.5 92.7 396.8 93.5 396.8 93.5 394.1 94.3 394.1 94.3 388.9 95.1 388.9 95.1 389.7 95.8 389.7 95.8 384.3 96.6 384.3 96.6 387.2 97.4 387.2 97.4 386.3 98.2 386.3 98.2 382.6 99.0 382.6 99.0 383.1 99.8 383.1 99.8 376.9 100.6 376.9 100.6 389.9 101.4 389.9 101.4 377.0 102.1 377.0 102.1 375.5 102.9 375.5 102.9 376.0 103.7 376.0 103.7 365.1 104.5 365.1 104.5 361.0 105.3 361.0 105.3 358.3 106.1 358.3 106.1 367.8 106.9 367.8 106.9 358.0 107.7 358.0 107.7 369.1 108.4 369.1 108.4 359.4 109.2 359.4 109.2 355.7 110.0 355.7 110.0 353.3 110.8 353.3 110.8 350.7 111.6 350.7 111.6 339.8 112.4 339.8 112.4 355.6 113.2 355.6 113.2 338.1 113.9 338.1 113.9 341.4 114.7 341.4 114.7 337.7 115.5 337.7 115.5 325.3 116.3 325.3 116.3 326.4 117.1 326.4 117.1 334.2 117.9 334.2 117.9 317.7 118.7 317.7 118.7 334.9 119.5 334.9 119.5 332.7 120.2 332.7 120.2 327.8 121.0 327.8 121.0 339.5 121.8 339.5 121.8 338.5 122.6 338.5 122.6 308.5 123.4 308.5 123.4 347.4 124.2 347.4 124.2 340.6 125.0 340.6 125.0 350.7 125.8 350.7 125.8 319.8 126.5 319.8 126.5 339.8 127.3 339.8 127.3 331.9 128.1 331.9 128.1 346.2 128.9 346.2 128.9 321.4 129.7 321.4 129.7 346.0 130.5 346.0 130.5 339.2 131.3 339.2 131.3 318.8 132.1 318.8 132.1 330.9 132.8 330.9 132.8 338.9 133.6 338.9 133.6 326.6 134.4 326.6 134.4 335.0 135.2 335.0 135.2 336.0 136.0 336.0 136.0 340.8 136.8 340.8 136.8 343.5 137.6 343.5 137.6 342.9 138.3 342.9 138.3 342.4 139.1 342.4 139.1 341.5 139.9 341.5 139.9 335.4 140.7 335.4 140.7 336.0 141.5 336.0 141.5 337.8 142.3 337.8 142.3 336.6 143.1 336.6 143.1 339.0 143.9 339.0 143.9 331.3 144.6 331.3 144.6 334.1 145.4 334.1 145.4 325.5 146.2 325.5 146.2 323.0 147.0 323.0 147.0 325.0 147.8 325.0 147.8 341.8 148.6 341.8 148.6 344.4 149.4 344.4 149.4 342.4 150.2 342.4 150.2 354.5 150.9 354.5 150.9 349.0 151.7 349.0 151.7 348.3 152.5 348.3 152.5 351.4 153.3 351.4 153.3 351.7 154.1 351.7 154.1 363.7 154.9 363.7 154.9 344.4 155.7 344.4 155.7 357.6 156.5 357.6 156.5 373.2 157.2 373.2 157.2 346.6 158.0 346.6 158.0 354.5 158.8 354.5 158.8 356.4 159.6 356.4 159.6 360.3 160.4 360.3 160.4 362.3 161.2 362.3 161.2 356.9 162.0 356.9 162.0 346.8 162.8 346.8 162.8 358.1 163.5 358.1 163.5 357.1 164.3 357.1 164.3 363.0 165.1 363.0 165.1 371.8 165.9 371.8 165.9 366.4 166.7 366.4 166.7 367.1 167.5 367.1 167.5 363.7 168.3 363.7 168.3 365.4 169.0 365.4 169.0 368.8 169.8 368.8 169.8 377.7 170.6 377.7 170.6 378.5 171.4 378.5 171.4 376.6 172.2 376.6 172.2 384.0 173.0 384.0 173.0 380.3 173.8 380.3 173.8 369.5 174.6 369.5 174.6 378.3 175.3 378.3 175.3 384.6 176.1 384.6 176.1 386.2 176.9 386.2 176.9 378.5 177.7 378.5 177.7 379.2 178.5 379.2 178.5 380.5 179.3 380.5 179.3 379.9 180.1 379.9 180.1 383.5 180.9 383.5 180.9 383.0 181.6 383.0 181.6 388.9 182.4 388.9 182.4 385.8 183.2 385.8 183.2 384.3 184.0 384.3 184.0 391.8 184.8 391.8 184.8 387.8 185.6 387.8 185.6 386.7 186.4 386.7 186.4 377.2 187.2 377.2 187.2 384.8 187.9 384.8 187.9 385.7 188.7 385.7 188.7 383.9 189.5 383.9 189.5 389.2 190.3 389.2 190.3 382.1 191.1 382.1 191.1 394.6 191.9 394.6 191.9 397.6 192.7 397.6 192.7 394.1 193.4 394.1 193.4 398.0 194.2 398.0 194.2 401.0 195.0 401.0 195.0 399.6 195.8 399.6 195.8 407.3 196.6 407.3 196.6 400.4 197.4 400.4 197.4 403.9 198.2 403.9 198.2 402.4 199.0 402.4 199.0 405.8 199.7 405.8 199.7 405.4 200.5 405.4 200.5 402.9 201.3 402.9 201.3 408.0 202.1 408.0 202.1 404.2 202.9 404.2 202.9 407.8 203.7 407.8 203.7 403.1 204.5 403.1 204.5 410.4 205.3 410.4 205.3 406.0 206.0 406.0 206.0 409.0 206.8 409.0 206.8 406.3 207.6 406.3 207.6 410.2 208.4 410.2 208.4 411.4 209.2 411.4 209.2 409.9 210.8 409.8 210.8 410.8 211.6 410.8 211.6 410.7 212.3 410.7 212.3 411.3 213.1 411.3 213.1 411.6 213.9 411.6 213.9 411.8 214.7 411.8 214.7 410.7 215.5 410.7 215.5 410.8 216.3 410.8 216.3 411.8 217.1 411.8 217.1 410.7 217.8 410.7 217.8 411.7 218.6 411.7 218.6 411.5 219.4 411.5 219.4 411.8 263.5 411.8" fill="none" stroke="#fff" stroke-width="0.7" clip-path="url(#clipB)"/>
<path d="M318.2 411.2 318.2 399.1 319.0 399.1 319.0 399.2 319.8 399.2 319.8 390.1 320.5 390.1 320.5 394.7 321.3 394.7 321.3 393.5 322.1 393.5 322.1 396.5 322.9 396.5 322.9 397.8 323.7 397.8 323.7 400.2 324.5 400.2 324.5 401.6 325.2 401.6 325.2 400.8 326.0 400.8 326.0 400.2 326.8 400.2 326.8 400.5 327.6 400.5 327.6 399.7 329.2 399.7 329.2 401.4 329.9 401.4 329.9 400.6 330.7 400.6 330.7 398.4 331.5 398.4 331.5 400.4 332.3 400.4 332.3 396.6 333.1 396.6 333.1 400.1 333.9 400.1 333.9 400.3 334.6 400.3 334.6 398.4 335.4 398.4 335.4 398.3 336.2 398.3 336.2 390.9 337.0 390.9 337.0 385.3 337.8 385.3 337.8 375.4 338.6 375.4 338.6 369.6 339.3 369.6 339.3 367.2 340.1 367.2 340.1 361.9 340.9 361.9 340.9 356.1 341.7 356.1 341.7 356.9 342.5 356.9 342.5 352.9 343.3 352.9 343.3 345.9 344.0 345.9 344.0 340.7 344.8 340.7 344.8 339.0 345.6 339.0 345.6 330.9 346.4 330.9 346.4 320.2 347.2 320.2 347.2 318.8 348.0 318.8 348.0 320.2 348.7 320.2 348.7 305.2 349.5 305.2 349.5 298.1 350.3 298.1 350.3 307.6 351.1 307.6 351.1 307.2 351.9 307.2 351.9 309.5 352.7 309.5 352.7 298.2 353.4 298.2 353.4 301.6 354.2 301.6 354.2 300.7 355.0 300.7 355.0 280.3 355.8 280.3 355.8 299.2 356.6 299.2 356.6 292.2 357.4 292.2 357.4 285.3 358.1 285.3 358.1 293.4 358.9 293.4 358.9 290.0 359.7 290.0 359.7 293.3 360.5 293.3 360.5 296.7 361.3 296.7 361.3 304.3 362.1 304.3 362.1 272.6 362.8 272.6 362.8 297.9 363.6 297.9 363.6 305.6 364.4 305.6 364.4 301.9 365.2 301.9 365.2 287.7 366.0 287.7 366.0 285.3 366.8 285.3 366.8 308.7 367.5 308.7 367.5 306.8 368.3 306.8 368.3 326.8 369.1 326.8 369.1 331.7 369.9 331.7 369.9 342.9 370.7 342.9 370.7 350.1 371.5 350.1 371.5 345.6 372.2 345.6 372.2 356.7 373.0 356.7 373.0 353.5 373.8 353.5 373.8 362.5 374.6 362.5 374.6 363.1 375.4 363.1 375.4 349.4 376.2 349.4 376.2 360.5 376.9 360.5 376.9 367.5 377.7 367.5 377.7 370.5 378.5 370.5 378.5 372.0 379.3 372.0 379.3 372.2 380.1 372.2 380.1 375.6 380.9 375.6 380.9 376.6 381.6 376.6 381.6 381.7 382.4 381.7 382.4 377.4 383.2 377.4 383.2 380.9 384.0 380.9 384.0 382.5 384.8 382.5 384.8 380.0 385.6 380.0 385.6 382.6 386.3 382.6 386.3 384.1 387.1 384.1 387.1 387.4 387.9 387.4 387.9 388.5 388.7 388.5 388.7 387.6 389.5 387.6 389.5 386.4 390.3 386.4 390.3 389.7 391.0 389.7 391.0 385.8 391.8 385.8 391.8 389.0 392.6 389.0 392.6 389.8 393.4 389.8 393.4 386.9 394.2 386.9 394.2 389.9 395.0 389.9 395.0 390.8 395.7 390.8 395.7 390.0 396.5 390.0 396.5 388.2 397.3 388.2 397.3 379.3 398.1 379.3 398.1 388.4 398.9 388.4 398.9 391.3 399.7 391.3 399.7 389.6 400.4 389.6 400.4 387.8 401.2 387.8 401.2 386.1 402.0 386.1 402.0 387.2 402.8 387.2 402.8 388.5 403.6 388.5 403.6 389.1 404.4 389.1 404.4 388.1 405.1 388.1 405.1 388.0 405.9 388.0 405.9 385.9 406.7 385.9 406.7 382.3 407.5 382.3 407.5 383.2 408.3 383.2 408.3 386.6 409.1 386.6 409.1 378.0 409.8 378.0 409.8 385.7 410.6 385.7 410.6 383.5 411.4 383.5 411.4 384.8 412.2 384.8 412.2 385.2 413.0 385.2 413.0 380.4 413.8 380.4 413.8 383.3 414.5 383.3 414.5 379.2 415.3 379.2 415.3 386.6 416.1 386.6 416.1 384.9 416.9 384.9 416.9 385.7 417.7 385.7 417.7 382.8 418.5 382.8 418.5 378.6 419.2 378.6 419.2 381.5 420.0 381.5 420.0 380.5 420.8 380.5 420.8 382.7 421.6 382.7 421.6 381.0 422.4 381.0 422.4 380.9 423.1 380.9 423.1 386.5 423.9 386.5 423.9 384.5 424.7 384.5 424.7 384.3 425.5 384.3 425.5 383.4 426.3 383.4 426.3 388.5 427.1 388.5 427.1 386.4 427.8 386.4 427.8 387.6 428.6 387.6 428.6 390.3 429.4 390.3 429.4 387.6 430.2 387.6 430.2 386.2 431.0 386.2 431.0 389.6 431.8 389.6 431.8 387.4 432.5 387.4 432.5 389.1 433.3 389.1 433.3 386.6 434.1 386.6 434.1 386.8 434.9 386.8 434.9 387.8 435.7 387.8 435.7 388.6 436.5 388.6 436.5 394.9 437.2 394.9 437.2 392.7 438.0 392.7 438.0 390.2 438.8 390.2 438.8 394.7 439.6 394.7 439.6 396.9 440.4 396.9 440.4 393.8 441.2 393.8 441.2 391.8 441.9 391.8 441.9 397.8 442.7 397.8 442.7 397.6 443.5 397.6 443.5 396.6 444.3 396.6 444.3 396.0 445.1 396.0 445.1 398.6 445.9 398.6 445.9 401.9 446.6 401.9 446.6 401.3 447.4 401.3 447.4 399.3 448.2 399.3 448.2 402.1 449.0 402.1 449.0 403.8 449.8 403.8 449.8 402.0 450.6 402.0 450.6 403.3 451.3 403.3 451.3 402.4 452.1 402.4 452.1 402.8 452.9 402.8 452.9 404.1 453.7 404.1 453.7 406.2 455.3 406.2 455.3 406.3 456.0 406.3 456.0 408.4 456.8 408.4 456.8 408.0 457.6 408.0 457.6 408.5 458.4 408.5 458.4 409.7 459.2 409.7 459.2 408.6 460.0 408.6 460.0 408.1 460.7 408.1 460.7 410.1 461.5 410.1 461.5 410.5 462.3 410.5 462.3 410.7 463.1 410.7 463.1 410.0 464.7 410.0 464.7 411.2 465.4 411.2 465.4 410.8 466.2 410.8 466.2 411.2 510.9 411.2 510.9 409.0 511.7 409.0 511.7 408.0 512.4 408.0 512.4 409.7 513.2 409.7 513.2 408.6 514.0 408.6 514.0 411.2 514.8 411.2 514.8 410.4 515.6 410.4 515.6 409.2 516.4 409.2 516.4 411.2 517.1 411.2 517.1 410.0 517.9 410.0 517.9 405.2 518.7 405.2 518.7 411.2Z" fill="#000"/>
<path d="M318.2 411.2 319.0 411.2 319.0 409.4 319.8 409.4 319.8 409.3 320.5 409.3 320.5 409.2 321.3 409.2 321.3 409.0 322.1 409.0 322.1 409.5 322.9 409.5 322.9 408.9 323.7 408.9 323.7 408.0 324.5 408.0 324.5 406.9 325.2 406.9 325.2 409.4 326.0 409.4 326.0 410.2 326.8 410.2 326.8 411.0 327.6 411.0 327.6 408.6 328.4 408.6 328.4 409.1 329.2 409.1 329.2 406.5 329.9 406.5 329.9 410.6 330.7 410.6 330.7 409.4 331.5 409.4 331.5 409.9 332.3 409.9 332.3 407.7 333.1 407.7 333.1 407.7 333.9 407.7 333.9 408.4 334.6 408.4 334.6 407.4 335.4 407.4 335.4 403.6 336.2 403.6 336.2 402.3 337.0 402.3 337.0 403.1 337.8 403.1 337.8 402.3 338.6 402.3 338.6 401.7 339.3 401.7 339.3 404.1 340.1 404.1 340.1 402.1 340.9 402.1 340.9 404.2 341.7 404.2 341.7 399.0 342.5 399.0 342.5 401.9 343.3 401.9 343.3 401.3 344.0 401.3 344.0 398.1 344.8 398.1 344.8 397.4 345.6 397.4 345.6 399.0 346.4 399.0 346.4 400.8 347.2 400.8 347.2 399.2 348.0 399.2 348.0 398.1 348.7 398.1 348.7 394.0 349.5 394.0 349.5 391.0 350.3 391.0 350.3 393.1 351.1 393.1 351.1 388.8 351.9 388.8 351.9 397.7 352.7 397.7 352.7 388.2 353.4 388.2 353.4 387.7 354.2 387.7 354.2 392.9 355.0 392.9 355.0 378.9 355.8 378.9 355.8 380.9 356.6 380.9 356.6 371.4 357.4 371.4 357.4 374.5 358.1 374.5 358.1 377.1 358.9 377.1 358.9 386.4 359.7 386.4 359.7 378.1 360.5 378.1 360.5 364.8 361.3 364.8 361.3 357.0 362.1 357.0 362.1 362.6 362.8 362.6 362.8 367.2 363.6 367.2 363.6 355.2 364.4 355.2 364.4 359.2 365.2 359.2 365.2 363.6 366.0 363.6 366.0 348.3 366.8 348.3 366.8 358.8 367.5 358.8 367.5 351.0 368.3 351.0 368.3 353.0 369.1 353.0 369.1 337.4 369.9 337.4 369.9 343.1 370.7 343.1 370.7 341.8 371.5 341.8 371.5 337.4 372.2 337.4 372.2 329.8 373.0 329.8 373.0 341.5 373.8 341.5 373.8 329.3 374.6 329.3 374.6 342.2 375.4 342.2 375.4 327.6 376.2 327.6 376.2 342.6 376.9 342.6 376.9 340.2 377.7 340.2 377.7 323.8 378.5 323.8 378.5 307.7 379.3 307.7 379.3 333.5 380.1 333.5 380.1 335.4 380.9 335.4 380.9 319.6 381.6 319.6 381.6 335.7 382.4 335.7 382.4 336.3 383.2 336.3 383.2 342.7 384.0 342.7 384.0 340.9 384.8 340.9 384.8 339.3 385.6 339.3 385.6 343.1 386.3 343.1 386.3 327.9 387.1 327.9 387.1 332.0 387.9 332.0 387.9 337.3 388.7 337.3 388.7 338.6 389.5 338.6 389.5 324.2 390.3 324.2 390.3 338.7 391.0 338.7 391.0 324.6 391.8 324.6 391.8 340.7 392.6 340.7 392.6 338.0 393.4 338.0 393.4 326.7 394.2 326.7 394.2 337.0 395.0 337.0 395.0 329.4 395.7 329.4 395.7 338.7 396.5 338.7 396.5 332.0 397.3 332.0 397.3 329.7 398.1 329.7 398.1 320.8 398.9 320.8 398.9 333.8 399.7 333.8 399.7 334.2 401.2 334.2 401.2 336.1 402.0 336.1 402.0 337.5 402.8 337.5 402.8 334.4 403.6 334.4 403.6 331.6 404.4 331.6 404.4 348.7 405.1 348.7 405.1 331.1 405.9 331.1 405.9 334.8 406.7 334.8 406.7 342.9 407.5 342.9 407.5 353.4 408.3 353.4 408.3 351.6 409.1 351.6 409.1 355.6 409.8 355.6 409.8 348.7 410.6 348.7 410.6 357.7 411.4 357.7 411.4 365.6 412.2 365.6 412.2 365.8 413.0 365.8 413.0 362.4 413.8 362.4 413.8 352.8 414.5 352.8 414.5 347.7 415.3 347.7 415.3 364.7 416.1 364.7 416.1 360.3 416.9 360.3 416.9 358.0 417.7 358.0 417.7 370.6 418.5 370.6 418.5 354.2 419.2 354.2 419.2 360.3 420.0 360.3 420.0 357.0 420.8 357.0 420.8 356.2 421.6 356.2 421.6 372.0 422.4 372.0 422.4 357.5 423.1 357.5 423.1 370.7 423.9 370.7 423.9 364.5 424.7 364.5 424.7 371.4 425.5 371.4 425.5 367.4 426.3 367.4 426.3 372.0 427.1 372.0 427.1 373.8 427.8 373.8 427.8 371.3 428.6 371.3 428.6 369.4 429.4 369.4 429.4 371.3 430.2 371.3 430.2 367.9 431.0 367.9 431.0 382.4 431.8 382.4 431.8 381.5 432.5 381.5 432.5 373.4 433.3 373.4 433.3 380.6 434.1 380.6 434.1 373.2 434.9 373.2 434.9 379.9 435.7 379.9 435.7 389.8 436.5 389.8 436.5 376.9 437.2 376.9 437.2 384.6 438.0 384.6 438.0 381.3 438.8 381.3 438.8 384.4 439.6 384.4 439.6 385.7 440.4 385.7 440.4 387.7 441.2 387.7 441.2 378.9 441.9 378.9 441.9 382.9 442.7 382.9 442.7 380.5 443.5 380.5 443.5 387.0 444.3 387.0 444.3 389.1 445.1 389.1 445.1 389.8 445.9 389.8 445.9 385.8 446.6 385.8 446.6 386.6 447.4 386.6 447.4 391.1 448.2 391.1 448.2 387.8 449.0 387.8 449.0 398.7 449.8 398.7 449.8 396.2 450.6 396.2 450.6 403.9 451.3 403.9 451.3 397.3 452.1 397.3 452.1 398.1 452.9 398.1 452.9 400.8 453.7 400.8 453.7 405.5 454.5 405.5 454.5 401.9 455.3 401.9 455.3 402.6 456.0 402.6 456.0 404.9 456.8 404.9 456.8 408.3 457.6 408.3 457.6 408.4 459.2 408.4 459.2 407.1 460.0 407.1 460.0 405.2 460.7 405.2 460.7 407.4 461.5 407.4 461.5 408.2 462.3 408.2 462.3 410.3 463.1 410.3 463.1 407.9 463.9 407.9 463.9 408.7 464.7 408.7 464.7 410.7 465.4 410.7 465.4 411.2 518.7 411.2" fill="none" stroke="#333" stroke-width="0.9" stroke-dasharray="2.5 1.5"/>
<path d="M318.2 411.2 319.0 411.2 319.0 409.4 319.8 409.4 319.8 409.3 320.5 409.3 320.5 409.2 321.3 409.2 321.3 409.0 322.1 409.0 322.1 409.5 322.9 409.5 322.9 408.9 323.7 408.9 323.7 408.0 324.5 408.0 324.5 406.9 325.2 406.9 325.2 409.4 326.0 409.4 326.0 410.2 326.8 410.2 326.8 411.0 327.6 411.0 327.6 408.6 328.4 408.6 328.4 409.1 329.2 409.1 329.2 406.5 329.9 406.5 329.9 410.6 330.7 410.6 330.7 409.4 331.5 409.4 331.5 409.9 332.3 409.9 332.3 407.7 333.1 407.7 333.1 407.7 333.9 407.7 333.9 408.4 334.6 408.4 334.6 407.4 335.4 407.4 335.4 403.6 336.2 403.6 336.2 402.3 337.0 402.3 337.0 403.1 337.8 403.1 337.8 402.3 338.6 402.3 338.6 401.7 339.3 401.7 339.3 404.1 340.1 404.1 340.1 402.1 340.9 402.1 340.9 404.2 341.7 404.2 341.7 399.0 342.5 399.0 342.5 401.9 343.3 401.9 343.3 401.3 344.0 401.3 344.0 398.1 344.8 398.1 344.8 397.4 345.6 397.4 345.6 399.0 346.4 399.0 346.4 400.8 347.2 400.8 347.2 399.2 348.0 399.2 348.0 398.1 348.7 398.1 348.7 394.0 349.5 394.0 349.5 391.0 350.3 391.0 350.3 393.1 351.1 393.1 351.1 388.8 351.9 388.8 351.9 397.7 352.7 397.7 352.7 388.2 353.4 388.2 353.4 387.7 354.2 387.7 354.2 392.9 355.0 392.9 355.0 378.9 355.8 378.9 355.8 380.9 356.6 380.9 356.6 371.4 357.4 371.4 357.4 374.5 358.1 374.5 358.1 377.1 358.9 377.1 358.9 386.4 359.7 386.4 359.7 378.1 360.5 378.1 360.5 364.8 361.3 364.8 361.3 357.0 362.1 357.0 362.1 362.6 362.8 362.6 362.8 367.2 363.6 367.2 363.6 355.2 364.4 355.2 364.4 359.2 365.2 359.2 365.2 363.6 366.0 363.6 366.0 348.3 366.8 348.3 366.8 358.8 367.5 358.8 367.5 351.0 368.3 351.0 368.3 353.0 369.1 353.0 369.1 337.4 369.9 337.4 369.9 343.1 370.7 343.1 370.7 341.8 371.5 341.8 371.5 337.4 372.2 337.4 372.2 329.8 373.0 329.8 373.0 341.5 373.8 341.5 373.8 329.3 374.6 329.3 374.6 342.2 375.4 342.2 375.4 327.6 376.2 327.6 376.2 342.6 376.9 342.6 376.9 340.2 377.7 340.2 377.7 323.8 378.5 323.8 378.5 307.7 379.3 307.7 379.3 333.5 380.1 333.5 380.1 335.4 380.9 335.4 380.9 319.6 381.6 319.6 381.6 335.7 382.4 335.7 382.4 336.3 383.2 336.3 383.2 342.7 384.0 342.7 384.0 340.9 384.8 340.9 384.8 339.3 385.6 339.3 385.6 343.1 386.3 343.1 386.3 327.9 387.1 327.9 387.1 332.0 387.9 332.0 387.9 337.3 388.7 337.3 388.7 338.6 389.5 338.6 389.5 324.2 390.3 324.2 390.3 338.7 391.0 338.7 391.0 324.6 391.8 324.6 391.8 340.7 392.6 340.7 392.6 338.0 393.4 338.0 393.4 326.7 394.2 326.7 394.2 337.0 395.0 337.0 395.0 329.4 395.7 329.4 395.7 338.7 396.5 338.7 396.5 332.0 397.3 332.0 397.3 329.7 398.1 329.7 398.1 320.8 398.9 320.8 398.9 333.8 399.7 333.8 399.7 334.2 401.2 334.2 401.2 336.1 402.0 336.1 402.0 337.5 402.8 337.5 402.8 334.4 403.6 334.4 403.6 331.6 404.4 331.6 404.4 348.7 405.1 348.7 405.1 331.1 405.9 331.1 405.9 334.8 406.7 334.8 406.7 342.9 407.5 342.9 407.5 353.4 408.3 353.4 408.3 351.6 409.1 351.6 409.1 355.6 409.8 355.6 409.8 348.7 410.6 348.7 410.6 357.7 411.4 357.7 411.4 365.6 412.2 365.6 412.2 365.8 413.0 365.8 413.0 362.4 413.8 362.4 413.8 352.8 414.5 352.8 414.5 347.7 415.3 347.7 415.3 364.7 416.1 364.7 416.1 360.3 416.9 360.3 416.9 358.0 417.7 358.0 417.7 370.6 418.5 370.6 418.5 354.2 419.2 354.2 419.2 360.3 420.0 360.3 420.0 357.0 420.8 357.0 420.8 356.2 421.6 356.2 421.6 372.0 422.4 372.0 422.4 357.5 423.1 357.5 423.1 370.7 423.9 370.7 423.9 364.5 424.7 364.5 424.7 371.4 425.5 371.4 425.5 367.4 426.3 367.4 426.3 372.0 427.1 372.0 427.1 373.8 427.8 373.8 427.8 371.3 428.6 371.3 428.6 369.4 429.4 369.4 429.4 371.3 430.2 371.3 430.2 367.9 431.0 367.9 431.0 382.4 431.8 382.4 431.8 381.5 432.5 381.5 432.5 373.4 433.3 373.4 433.3 380.6 434.1 380.6 434.1 373.2 434.9 373.2 434.9 379.9 435.7 379.9 435.7 389.8 436.5 389.8 436.5 376.9 437.2 376.9 437.2 384.6 438.0 384.6 438.0 381.3 438.8 381.3 438.8 384.4 439.6 384.4 439.6 385.7 440.4 385.7 440.4 387.7 441.2 387.7 441.2 378.9 441.9 378.9 441.9 382.9 442.7 382.9 442.7 380.5 443.5 380.5 443.5 387.0 444.3 387.0 444.3 389.1 445.1 389.1 445.1 389.8 445.9 389.8 445.9 385.8 446.6 385.8 446.6 386.6 447.4 386.6 447.4 391.1 448.2 391.1 448.2 387.8 449.0 387.8 449.0 398.7 449.8 398.7 449.8 396.2 450.6 396.2 450.6 403.9 451.3 403.9 451.3 397.3 452.1 397.3 452.1 398.1 452.9 398.1 452.9 400.8 453.7 400.8 453.7 405.5 454.5 405.5 454.5 401.9 455.3 401.9 455.3 402.6 456.0 402.6 456.0 404.9 456.8 404.9 456.8 408.3 457.6 408.3 457.6 408.4 459.2 408.4 459.2 407.1 460.0 407.1 460.0 405.2 460.7 405.2 460.7 407.4 461.5 407.4 461.5 408.2 462.3 408.2 462.3 410.3 463.1 410.3 463.1 407.9 463.9 407.9 463.9 408.7 464.7 408.7 464.7 410.7 465.4 410.7 465.4 411.2 518.7 411.2" fill="none" stroke="#fff" stroke-width="0.7" clip-path="url(#clipD)"/>
<line x1="63.6" y1="4.5" x2="64.4" y2="182" stroke="#222" stroke-width="1.1"/>
<line x1="61.4" y1="4.5" x2="63.6" y2="4.5" stroke="#222" stroke-width="1.1"/>
<line x1="61.68" y1="22.25" x2="63.68" y2="22.25" stroke="#222" stroke-width="1"/>
<line x1="61.76" y1="40" x2="63.76" y2="40" stroke="#222" stroke-width="1"/>
<line x1="61.84" y1="57.75" x2="63.84" y2="57.75" stroke="#222" stroke-width="1"/>
<line x1="61.92" y1="75.5" x2="63.92" y2="75.5" stroke="#222" stroke-width="1"/>
<line x1="62" y1="93.25" x2="64" y2="93.25" stroke="#222" stroke-width="1"/>
<line x1="62.08" y1="111" x2="64.08" y2="111" stroke="#222" stroke-width="1"/>
<line x1="62.16" y1="128.75" x2="64.16" y2="128.75" stroke="#222" stroke-width="1"/>
<line x1="62.24" y1="146.5" x2="64.24" y2="146.5" stroke="#222" stroke-width="1"/>
<line x1="62.32" y1="164.25" x2="64.32" y2="164.25" stroke="#222" stroke-width="1"/>
<line x1="63.2" y1="182" x2="215" y2="182" stroke="#111" stroke-width="1.3"/>
<line x1="215" y1="182" x2="265" y2="182" stroke="#222" stroke-width="1.2" stroke-dasharray="1.6 5.5"/>
<path d="M64.4 182v2.6 M79.5 182v1.8 M88.33 182v1.8 M94.59 182v1.8 M99.45 182v1.8 M103.42 182v1.8 M106.78 182v1.8 M109.69 182v1.8 M112.26 182v1.8 M114.55 182v2.6 M129.65 182v1.8 M138.48 182v1.8 M144.74 182v1.8 M149.6 182v1.8 M153.57 182v1.8 M156.93 182v1.8 M159.84 182v1.8 M162.41 182v1.8 M164.7 182v2.6 M179.8 182v1.8 M188.63 182v1.8 M194.89 182v1.8 M199.75 182v1.8 M203.72 182v1.8 M207.08 182v1.8 M209.99 182v1.8 M212.56 182v1.8 M214.85 182v2.6" stroke="#333" stroke-width="0.8" fill="none"/>
<text x="33.8" y="9.6" font-family="'Liberation Sans', Arial, sans-serif" font-weight="bold" font-size="10.6" letter-spacing="2.6" stroke="#000" stroke-width="0.1">120</text>
<text x="58.4" y="200.7" font-family="'Liberation Sans', Arial, sans-serif" font-weight="bold" font-size="11" letter-spacing="0.9" stroke="#000" stroke-width="0.1">10<tspan dx="-0.2" dy="-2.8">0</tspan></text>
<text x="105.8" y="200.7" font-family="'Liberation Sans', Arial, sans-serif" font-weight="bold" font-size="11" letter-spacing="0.9" stroke="#000" stroke-width="0.1">10<tspan dx="-0.2" dy="-2.8">1</tspan></text>
<text x="152.3" y="200.7" font-family="'Liberation Sans', Arial, sans-serif" font-weight="bold" font-size="11" letter-spacing="0.9" stroke="#000" stroke-width="0.1">10<tspan dx="-0.2" dy="-2.8">2</tspan></text>
<text x="205.1" y="200.7" font-family="'Liberation Sans', Arial, sans-serif" font-weight="bold" font-size="11" letter-spacing="0.9" stroke="#000" stroke-width="0.1">10<tspan dx="-0.2" dy="-2.8">3</tspan></text>
<line x1="319.2" y1="5.2" x2="318.8" y2="182.3" stroke="#222" stroke-width="1.1"/>
<line x1="317" y1="5.2" x2="319.2" y2="5.2" stroke="#222" stroke-width="1.1"/>
<line x1="317.16" y1="22.91" x2="319.16" y2="22.91" stroke="#222" stroke-width="1"/>
<line x1="317.12" y1="40.62" x2="319.12" y2="40.62" stroke="#222" stroke-width="1"/>
<line x1="317.08" y1="58.33" x2="319.08" y2="58.33" stroke="#222" stroke-width="1"/>
<line x1="317.04" y1="76.04" x2="319.04" y2="76.04" stroke="#222" stroke-width="1"/>
<line x1="317" y1="93.75" x2="319" y2="93.75" stroke="#222" stroke-width="1"/>
<line x1="316.96" y1="111.46" x2="318.96" y2="111.46" stroke="#222" stroke-width="1"/>
<line x1="316.92" y1="129.17" x2="318.92" y2="129.17" stroke="#222" stroke-width="1"/>
<line x1="316.88" y1="146.88" x2="318.88" y2="146.88" stroke="#222" stroke-width="1"/>
<line x1="316.84" y1="164.59" x2="318.84" y2="164.59" stroke="#222" stroke-width="1"/>
<line x1="317.6" y1="182.3" x2="462" y2="182.3" stroke="#111" stroke-width="1.3"/>
<line x1="462" y1="182.3" x2="518" y2="182.3" stroke="#222" stroke-width="1.2" stroke-dasharray="1.6 5.5"/>
<path d="M318.8 182.3v2.6 M333.79 182.3v1.8 M342.56 182.3v1.8 M348.78 182.3v1.8 M353.61 182.3v1.8 M357.55 182.3v1.8 M360.89 182.3v1.8 M363.77 182.3v1.8 M366.32 182.3v1.8 M368.6 182.3v2.6 M383.59 182.3v1.8 M392.36 182.3v1.8 M398.58 182.3v1.8 M403.41 182.3v1.8 M407.35 182.3v1.8 M410.69 182.3v1.8 M413.57 182.3v1.8 M416.12 182.3v1.8 M418.4 182.3v2.6 M433.39 182.3v1.8 M442.16 182.3v1.8 M448.38 182.3v1.8 M453.21 182.3v1.8 M457.15 182.3v1.8 M460.49 182.3v1.8 M463.37 182.3v1.8" stroke="#333" stroke-width="0.8" fill="none"/>
<text x="290.6" y="11" font-family="'Liberation Sans', Arial, sans-serif" font-weight="bold" font-size="10.6" letter-spacing="2.6" stroke="#000" stroke-width="0.1">120</text>
<text x="314" y="200.8" font-family="'Liberation Sans', Arial, sans-serif" font-weight="bold" font-size="11" letter-spacing="0.9" stroke="#000" stroke-width="0.1">10<tspan dx="-0.2" dy="-2.8">0</tspan></text>
<text x="360.5" y="200.8" font-family="'Liberation Sans', Arial, sans-serif" font-weight="bold" font-size="11" letter-spacing="0.9" stroke="#000" stroke-width="0.1">10<tspan dx="-0.2" dy="-2.8">1</tspan></text>
<text x="407.2" y="200.8" font-family="'Liberation Sans', Arial, sans-serif" font-weight="bold" font-size="11" letter-spacing="0.9" stroke="#000" stroke-width="0.1">10<tspan dx="-0.2" dy="-2.8">2</tspan></text>
<text x="459.6" y="200.8" font-family="'Liberation Sans', Arial, sans-serif" font-weight="bold" font-size="11" letter-spacing="0.9" stroke="#000" stroke-width="0.1">10<tspan dx="-0.2" dy="-2.8">3</tspan></text>
<line x1="63.7" y1="233.8" x2="62" y2="411.7" stroke="#222" stroke-width="1.1"/>
<line x1="61.5" y1="233.8" x2="63.7" y2="233.8" stroke="#222" stroke-width="1.1"/>
<line x1="61.53" y1="251.59" x2="63.53" y2="251.59" stroke="#222" stroke-width="1"/>
<line x1="61.36" y1="269.38" x2="63.36" y2="269.38" stroke="#222" stroke-width="1"/>
<line x1="61.19" y1="287.17" x2="63.19" y2="287.17" stroke="#222" stroke-width="1"/>
<line x1="61.02" y1="304.96" x2="63.02" y2="304.96" stroke="#222" stroke-width="1"/>
<line x1="60.85" y1="322.75" x2="62.85" y2="322.75" stroke="#222" stroke-width="1"/>
<line x1="60.68" y1="340.54" x2="62.68" y2="340.54" stroke="#222" stroke-width="1"/>
<line x1="60.51" y1="358.33" x2="62.51" y2="358.33" stroke="#222" stroke-width="1"/>
<line x1="60.34" y1="376.12" x2="62.34" y2="376.12" stroke="#222" stroke-width="1"/>
<line x1="60.17" y1="393.91" x2="62.17" y2="393.91" stroke="#222" stroke-width="1"/>
<line x1="60.8" y1="411.7" x2="215" y2="411.7" stroke="#111" stroke-width="1.3"/>
<line x1="215" y1="411.7" x2="263.5" y2="411.7" stroke="#222" stroke-width="1.2" stroke-dasharray="1.6 5.5"/>
<path d="M62 411.7v2.6 M77.16 411.7v1.8 M86.03 411.7v1.8 M92.33 411.7v1.8 M97.21 411.7v1.8 M101.2 411.7v1.8 M104.57 411.7v1.8 M107.49 411.7v1.8 M110.07 411.7v1.8 M112.38 411.7v2.6 M127.54 411.7v1.8 M136.41 411.7v1.8 M142.7 411.7v1.8 M147.59 411.7v1.8 M151.57 411.7v1.8 M154.95 411.7v1.8 M157.87 411.7v1.8 M160.44 411.7v1.8 M162.75 411.7v2.6 M177.91 411.7v1.8 M186.78 411.7v1.8 M193.08 411.7v1.8 M197.96 411.7v1.8 M201.95 411.7v1.8 M205.32 411.7v1.8 M208.24 411.7v1.8 M210.82 411.7v1.8 M213.12 411.7v2.6" stroke="#333" stroke-width="0.8" fill="none"/>
<text x="35.9" y="238.6" font-family="'Liberation Sans', Arial, sans-serif" font-weight="bold" font-size="10.6" letter-spacing="2.6" stroke="#000" stroke-width="0.1">120</text>
<text x="55.9" y="431.7" font-family="'Liberation Sans', Arial, sans-serif" font-weight="bold" font-size="11" letter-spacing="0.9" stroke="#000" stroke-width="0.1">10<tspan dx="-0.2" dy="-2.8">0</tspan></text>
<text x="102.6" y="431.7" font-family="'Liberation Sans', Arial, sans-serif" font-weight="bold" font-size="11" letter-spacing="0.9" stroke="#000" stroke-width="0.1">10<tspan dx="-0.2" dy="-2.8">1</tspan></text>
<text x="150.2" y="431.7" font-family="'Liberation Sans', Arial, sans-serif" font-weight="bold" font-size="11" letter-spacing="0.9" stroke="#000" stroke-width="0.1">10<tspan dx="-0.2" dy="-2.8">2</tspan></text>
<text x="202.5" y="431.7" font-family="'Liberation Sans', Arial, sans-serif" font-weight="bold" font-size="11" letter-spacing="0.9" stroke="#000" stroke-width="0.1">10<tspan dx="-0.2" dy="-2.8">3</tspan></text>
<line x1="318.9" y1="233.6" x2="318.2" y2="411.2" stroke="#222" stroke-width="1.1"/>
<line x1="316.7" y1="233.6" x2="318.9" y2="233.6" stroke="#222" stroke-width="1.1"/>
<line x1="316.83" y1="251.36" x2="318.83" y2="251.36" stroke="#222" stroke-width="1"/>
<line x1="316.76" y1="269.12" x2="318.76" y2="269.12" stroke="#222" stroke-width="1"/>
<line x1="316.69" y1="286.88" x2="318.69" y2="286.88" stroke="#222" stroke-width="1"/>
<line x1="316.62" y1="304.64" x2="318.62" y2="304.64" stroke="#222" stroke-width="1"/>
<line x1="316.55" y1="322.4" x2="318.55" y2="322.4" stroke="#222" stroke-width="1"/>
<line x1="316.48" y1="340.16" x2="318.48" y2="340.16" stroke="#222" stroke-width="1"/>
<line x1="316.41" y1="357.92" x2="318.41" y2="357.92" stroke="#222" stroke-width="1"/>
<line x1="316.34" y1="375.68" x2="318.34" y2="375.68" stroke="#222" stroke-width="1"/>
<line x1="316.27" y1="393.44" x2="318.27" y2="393.44" stroke="#222" stroke-width="1"/>
<line x1="317" y1="411.2" x2="465" y2="411.2" stroke="#111" stroke-width="1.3"/>
<line x1="465" y1="411.2" x2="518.7" y2="411.2" stroke="#222" stroke-width="1.2" stroke-dasharray="1.6 5.5"/>
<path d="M318.2 411.2v2.6 M333.29 411.2v1.8 M342.12 411.2v1.8 M348.38 411.2v1.8 M353.24 411.2v1.8 M357.2 411.2v1.8 M360.56 411.2v1.8 M363.47 411.2v1.8 M366.03 411.2v1.8 M368.32 411.2v2.6 M383.41 411.2v1.8 M392.24 411.2v1.8 M398.5 411.2v1.8 M403.36 411.2v1.8 M407.33 411.2v1.8 M410.69 411.2v1.8 M413.59 411.2v1.8 M416.16 411.2v1.8 M418.45 411.2v2.6 M433.54 411.2v1.8 M442.37 411.2v1.8 M448.63 411.2v1.8 M453.49 411.2v1.8 M457.45 411.2v1.8 M460.81 411.2v1.8 M463.72 411.2v1.8 M466.28 411.2v1.8" stroke="#333" stroke-width="0.8" fill="none"/>
<text x="291.1" y="238.1" font-family="'Liberation Sans', Arial, sans-serif" font-weight="bold" font-size="10.6" letter-spacing="2.6" stroke="#000" stroke-width="0.1">120</text>
<text x="313.7" y="431.3" font-family="'Liberation Sans', Arial, sans-serif" font-weight="bold" font-size="11" letter-spacing="0.9" stroke="#000" stroke-width="0.1">10<tspan dx="-0.2" dy="-2.8">0</tspan></text>
<text x="360.9" y="431.3" font-family="'Liberation Sans', Arial, sans-serif" font-weight="bold" font-size="11" letter-spacing="0.9" stroke="#000" stroke-width="0.1">10<tspan dx="-0.2" dy="-2.8">1</tspan></text>
<text x="407.5" y="431.3" font-family="'Liberation Sans', Arial, sans-serif" font-weight="bold" font-size="11" letter-spacing="0.9" stroke="#000" stroke-width="0.1">10<tspan dx="-0.2" dy="-2.8">2</tspan></text>
<text x="460.8" y="431.3" font-family="'Liberation Sans', Arial, sans-serif" font-weight="bold" font-size="11" letter-spacing="0.9" stroke="#000" stroke-width="0.1">10<tspan dx="-0.2" dy="-2.8">3</tspan></text>
<text x="142.04" y="28.5" font-family="'Liberation Serif', 'Times New Roman', serif" font-weight="bold" font-size="16.5" textLength="31.86" lengthAdjust="spacingAndGlyphs">Thr.</text>
<text x="182.51" y="28.5" font-family="'Liberation Serif', 'Times New Roman', serif" font-weight="bold" font-size="16.5" textLength="19.63" lengthAdjust="spacingAndGlyphs">0.1</text>
<text x="212.01" y="28.5" font-family="'Liberation Serif', 'Times New Roman', serif" font-weight="bold" font-size="16.5" textLength="24.07" lengthAdjust="spacingAndGlyphs">nM</text>
<text x="235.16" y="168.7" font-family="'Liberation Serif', 'Times New Roman', serif" font-weight="bold" font-size="28" textLength="19.26" lengthAdjust="spacingAndGlyphs">A</text>
<text x="399.56" y="31.1" font-family="'Liberation Serif', 'Times New Roman', serif" font-weight="bold" font-size="16.5" textLength="33.77" lengthAdjust="spacingAndGlyphs">HLE</text>
<text x="439.96" y="31.1" font-family="'Liberation Serif', 'Times New Roman', serif" font-weight="bold" font-size="16.5" textLength="25.49" lengthAdjust="spacingAndGlyphs">300</text>
<text x="472.43" y="31.1" font-family="'Liberation Serif', 'Times New Roman', serif" font-weight="bold" font-size="16.5" textLength="23.45" lengthAdjust="spacingAndGlyphs">nM</text>
<text x="489.52" y="169.05" font-family="'Liberation Serif', 'Times New Roman', serif" font-weight="bold" font-size="28" textLength="21.74" lengthAdjust="spacingAndGlyphs">C</text>
<text x="139.54" y="255.8" font-family="'Liberation Serif', 'Times New Roman', serif" font-weight="bold" font-size="16.5" textLength="31.34" lengthAdjust="spacingAndGlyphs">Thr.</text>
<text x="178.55" y="255.8" font-family="'Liberation Serif', 'Times New Roman', serif" font-weight="bold" font-size="16.5" textLength="21.7" lengthAdjust="spacingAndGlyphs">1.0</text>
<text x="208.33" y="255.8" font-family="'Liberation Serif', 'Times New Roman', serif" font-weight="bold" font-size="16.5" textLength="23.45" lengthAdjust="spacingAndGlyphs">nM</text>
<text x="234.34" y="398.48" font-family="'Liberation Serif', 'Times New Roman', serif" font-weight="bold" font-size="28" textLength="17.32" lengthAdjust="spacingAndGlyphs">B</text>
<text x="399.19" y="256.6" font-family="'Liberation Serif', 'Times New Roman', serif" font-weight="bold" font-size="16.5" textLength="28.37" lengthAdjust="spacingAndGlyphs">Cat.</text>
<text x="436.18" y="256.6" font-family="'Liberation Serif', 'Times New Roman', serif" font-weight="bold" font-size="16.5" textLength="12.37" lengthAdjust="spacingAndGlyphs">G</text>
<text x="455.67" y="256.6" font-family="'Liberation Serif', 'Times New Roman', serif" font-weight="bold" font-size="16.5" textLength="24.96" lengthAdjust="spacingAndGlyphs">300</text>
<text x="487.62" y="256.6" font-family="'Liberation Serif', 'Times New Roman', serif" font-weight="bold" font-size="16.5" textLength="23.66" lengthAdjust="spacingAndGlyphs">nM</text>
<text x="489.11" y="398.4" font-family="'Liberation Serif', 'Times New Roman', serif" font-weight="bold" font-size="28" textLength="19.82" lengthAdjust="spacingAndGlyphs">D</text>
<text x="182.68" y="469.15" font-family="'Liberation Serif', 'Times New Roman', serif" font-weight="bold" font-size="15.4" stroke="#000" stroke-width="0.25" textLength="214.84" lengthAdjust="spacingAndGlyphs">FLUORESCENCE INTENSITY</text>
<text transform="translate(12.2,259.7) rotate(-90)" x="0" y="0" font-family="'Liberation Serif', 'Times New Roman', serif" font-weight="bold" font-size="15" stroke="#000" stroke-width="0.25" textLength="112.5" lengthAdjust="spacingAndGlyphs">CELL NUMBER</text>
</svg>
</body></html>
